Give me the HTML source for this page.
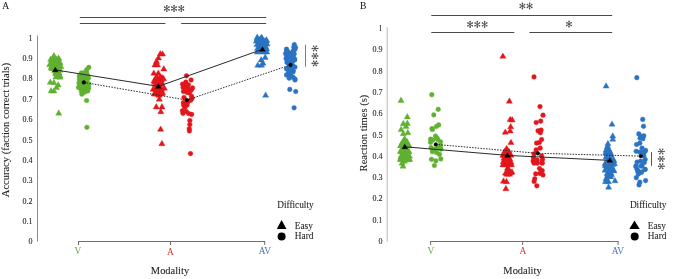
<!DOCTYPE html>
<html><head><meta charset="utf-8"><style>
html,body{margin:0;padding:0;background:#fff;}
svg{display:block;will-change:transform;}
text{font-family:"Liberation Serif",serif;}
</style></head><body>
<svg width="685" height="279" viewBox="0 0 685 279">
<rect width="685" height="279" fill="#fff"/>
<!-- panel labels -->
<text x="2.3" y="8.7" font-size="9.6" fill="#1c1c1c" stroke="#1c1c1c" stroke-width="0.07">A</text>
<text x="360" y="9.1" font-size="9.6" fill="#1c1c1c" stroke="#1c1c1c" stroke-width="0.07">B</text>
<!-- axes A -->
<g stroke-width="1" fill="none">
<path d="M37.5 35.5V241.5" stroke="#8c8c8c"/>
<path d="M387.2 27.2V241.6" stroke="#bdb6b6"/>
<path d="M78 241.5H265.2M78.5 241.5V245M170.5 241.5V245M264.7 241.5V245" stroke="#6e6e6e"/>
<path d="M430.1 241.5H618.6M430.6 241.5V245M522.6 241.5V245M618.1 241.5V245" stroke="#6e6e6e"/>
</g>
<g font-size="8" fill="#2a2a2a" stroke="#2a2a2a" stroke-width="0.12">
<text x="32.6" y="244.3" text-anchor="end">0</text>
<text x="32.6" y="223.9" text-anchor="end">0.1</text>
<text x="32.6" y="203.6" text-anchor="end">0.2</text>
<text x="32.6" y="183.2" text-anchor="end">0.3</text>
<text x="32.6" y="162.9" text-anchor="end">0.4</text>
<text x="32.6" y="142.5" text-anchor="end">0.5</text>
<text x="32.6" y="122.1" text-anchor="end">0.6</text>
<text x="32.6" y="101.8" text-anchor="end">0.7</text>
<text x="32.6" y="81.4" text-anchor="end">0.8</text>
<text x="32.6" y="61.1" text-anchor="end">0.9</text>
<text x="32.6" y="40.7" text-anchor="end">1</text>
<text x="382.6" y="244.1" text-anchor="end">0</text>
<text x="382.6" y="222.8" text-anchor="end">0.1</text>
<text x="382.6" y="201.4" text-anchor="end">0.2</text>
<text x="382.6" y="180.1" text-anchor="end">0.3</text>
<text x="382.6" y="158.8" text-anchor="end">0.4</text>
<text x="382.6" y="137.5" text-anchor="end">0.5</text>
<text x="382.6" y="116.1" text-anchor="end">0.6</text>
<text x="382.6" y="94.8" text-anchor="end">0.7</text>
<text x="382.6" y="73.5" text-anchor="end">0.8</text>
<text x="382.6" y="52.1" text-anchor="end">0.9</text>
<text x="382.6" y="30.8" text-anchor="end">1</text>
</g>
<g font-size="9.4" text-anchor="middle">
<text x="77.8" y="254.2" fill="#5fae32">V</text>
<text x="170.3" y="254.7" fill="#d9342b">A</text>
<text x="264.9" y="254.3" fill="#4a72b8">AV</text>
<text x="430.9" y="253.8" fill="#5fae32">V</text>
<text x="523" y="254.3" fill="#d9342b">A</text>
<text x="617.9" y="254.2" fill="#4a72b8">AV</text>
</g>
<g font-size="10.45" text-anchor="middle" fill="#1c1c1c" stroke="#1c1c1c" stroke-width="0.07">
<text x="170" y="274.4">Modality</text>
<text x="522.5" y="274.4">Modality</text>
</g>
<text transform="translate(9.2 130) rotate(-90)" font-size="10.5" text-anchor="middle" fill="#1c1c1c" stroke="#1c1c1c" stroke-width="0.07">Accuracy (faction correct trials)</text>
<text transform="translate(367.3 133) rotate(-90)" font-size="10.55" text-anchor="middle" fill="#1c1c1c" stroke="#1c1c1c" stroke-width="0.07">Reaction times (s)</text>
<!-- sig bars -->
<g stroke="#4a4a4a" stroke-width="1" fill="none">
<path d="M79.8 17.5H266.2M79.8 23.5H165.4M181.2 23.5H266.2"/>
<path d="M305.5 44.7V66.8" stroke="#7c7c7c"/>
<path d="M431.3 15.5H612.2M431.3 32.5H514.3M529.4 32.5H612.2"/>
<path d="M651.5 152.2V165.8" stroke="#555"/>
</g>
<g stroke="#4d4d4d" stroke-width="0.85" stroke-linecap="round" fill="#4d4d4d"><path d="M166.80 8.50L166.80 5.75M166.80 8.50L166.80 11.25M166.80 8.50L164.60 7.10M166.80 8.50L169.00 9.90M166.80 8.50L164.60 9.90M166.80 8.50L169.00 7.10"/><circle stroke="none" cx="166.80" cy="5.75" r="0.78"/><circle stroke="none" cx="166.80" cy="11.25" r="0.78"/><circle stroke="none" cx="164.60" cy="7.10" r="0.78"/><circle stroke="none" cx="169.00" cy="9.90" r="0.78"/><circle stroke="none" cx="164.60" cy="9.90" r="0.78"/><circle stroke="none" cx="169.00" cy="7.10" r="0.78"/><path d="M174.05 8.50L174.05 5.75M174.05 8.50L174.05 11.25M174.05 8.50L171.85 7.10M174.05 8.50L176.25 9.90M174.05 8.50L171.85 9.90M174.05 8.50L176.25 7.10"/><circle stroke="none" cx="174.05" cy="5.75" r="0.78"/><circle stroke="none" cx="174.05" cy="11.25" r="0.78"/><circle stroke="none" cx="171.85" cy="7.10" r="0.78"/><circle stroke="none" cx="176.25" cy="9.90" r="0.78"/><circle stroke="none" cx="171.85" cy="9.90" r="0.78"/><circle stroke="none" cx="176.25" cy="7.10" r="0.78"/><path d="M181.30 8.50L181.30 5.75M181.30 8.50L181.30 11.25M181.30 8.50L179.10 7.10M181.30 8.50L183.50 9.90M181.30 8.50L179.10 9.90M181.30 8.50L183.50 7.10"/><circle stroke="none" cx="181.30" cy="5.75" r="0.78"/><circle stroke="none" cx="181.30" cy="11.25" r="0.78"/><circle stroke="none" cx="179.10" cy="7.10" r="0.78"/><circle stroke="none" cx="183.50" cy="9.90" r="0.78"/><circle stroke="none" cx="179.10" cy="9.90" r="0.78"/><circle stroke="none" cx="183.50" cy="7.10" r="0.78"/><path d="M522.40 6.00L522.40 3.25M522.40 6.00L522.40 8.75M522.40 6.00L520.20 4.60M522.40 6.00L524.60 7.40M522.40 6.00L520.20 7.40M522.40 6.00L524.60 4.60"/><circle stroke="none" cx="522.40" cy="3.25" r="0.78"/><circle stroke="none" cx="522.40" cy="8.75" r="0.78"/><circle stroke="none" cx="520.20" cy="4.60" r="0.78"/><circle stroke="none" cx="524.60" cy="7.40" r="0.78"/><circle stroke="none" cx="520.20" cy="7.40" r="0.78"/><circle stroke="none" cx="524.60" cy="4.60" r="0.78"/><path d="M529.60 6.00L529.60 3.25M529.60 6.00L529.60 8.75M529.60 6.00L527.40 4.60M529.60 6.00L531.80 7.40M529.60 6.00L527.40 7.40M529.60 6.00L531.80 4.60"/><circle stroke="none" cx="529.60" cy="3.25" r="0.78"/><circle stroke="none" cx="529.60" cy="8.75" r="0.78"/><circle stroke="none" cx="527.40" cy="4.60" r="0.78"/><circle stroke="none" cx="531.80" cy="7.40" r="0.78"/><circle stroke="none" cx="527.40" cy="7.40" r="0.78"/><circle stroke="none" cx="531.80" cy="4.60" r="0.78"/><path d="M470.10 24.40L470.10 21.65M470.10 24.40L470.10 27.15M470.10 24.40L467.90 23.00M470.10 24.40L472.30 25.80M470.10 24.40L467.90 25.80M470.10 24.40L472.30 23.00"/><circle stroke="none" cx="470.10" cy="21.65" r="0.78"/><circle stroke="none" cx="470.10" cy="27.15" r="0.78"/><circle stroke="none" cx="467.90" cy="23.00" r="0.78"/><circle stroke="none" cx="472.30" cy="25.80" r="0.78"/><circle stroke="none" cx="467.90" cy="25.80" r="0.78"/><circle stroke="none" cx="472.30" cy="23.00" r="0.78"/><path d="M477.30 24.40L477.30 21.65M477.30 24.40L477.30 27.15M477.30 24.40L475.10 23.00M477.30 24.40L479.50 25.80M477.30 24.40L475.10 25.80M477.30 24.40L479.50 23.00"/><circle stroke="none" cx="477.30" cy="21.65" r="0.78"/><circle stroke="none" cx="477.30" cy="27.15" r="0.78"/><circle stroke="none" cx="475.10" cy="23.00" r="0.78"/><circle stroke="none" cx="479.50" cy="25.80" r="0.78"/><circle stroke="none" cx="475.10" cy="25.80" r="0.78"/><circle stroke="none" cx="479.50" cy="23.00" r="0.78"/><path d="M484.60 24.40L484.60 21.65M484.60 24.40L484.60 27.15M484.60 24.40L482.40 23.00M484.60 24.40L486.80 25.80M484.60 24.40L482.40 25.80M484.60 24.40L486.80 23.00"/><circle stroke="none" cx="484.60" cy="21.65" r="0.78"/><circle stroke="none" cx="484.60" cy="27.15" r="0.78"/><circle stroke="none" cx="482.40" cy="23.00" r="0.78"/><circle stroke="none" cx="486.80" cy="25.80" r="0.78"/><circle stroke="none" cx="482.40" cy="25.80" r="0.78"/><circle stroke="none" cx="486.80" cy="23.00" r="0.78"/><path d="M569.00 24.10L569.00 21.35M569.00 24.10L569.00 26.85M569.00 24.10L566.80 22.70M569.00 24.10L571.20 25.50M569.00 24.10L566.80 25.50M569.00 24.10L571.20 22.70"/><circle stroke="none" cx="569.00" cy="21.35" r="0.78"/><circle stroke="none" cx="569.00" cy="26.85" r="0.78"/><circle stroke="none" cx="566.80" cy="22.70" r="0.78"/><circle stroke="none" cx="571.20" cy="25.50" r="0.78"/><circle stroke="none" cx="566.80" cy="25.50" r="0.78"/><circle stroke="none" cx="571.20" cy="22.70" r="0.78"/><path d="M315.00 48.50L312.25 48.50M315.00 48.50L317.75 48.50M315.00 48.50L313.60 46.30M315.00 48.50L316.40 50.70M315.00 48.50L316.40 46.30M315.00 48.50L313.60 50.70"/><circle stroke="none" cx="312.25" cy="48.50" r="0.78"/><circle stroke="none" cx="317.75" cy="48.50" r="0.78"/><circle stroke="none" cx="313.60" cy="46.30" r="0.78"/><circle stroke="none" cx="316.40" cy="50.70" r="0.78"/><circle stroke="none" cx="316.40" cy="46.30" r="0.78"/><circle stroke="none" cx="313.60" cy="50.70" r="0.78"/><path d="M315.00 56.00L312.25 56.00M315.00 56.00L317.75 56.00M315.00 56.00L313.60 53.80M315.00 56.00L316.40 58.20M315.00 56.00L316.40 53.80M315.00 56.00L313.60 58.20"/><circle stroke="none" cx="312.25" cy="56.00" r="0.78"/><circle stroke="none" cx="317.75" cy="56.00" r="0.78"/><circle stroke="none" cx="313.60" cy="53.80" r="0.78"/><circle stroke="none" cx="316.40" cy="58.20" r="0.78"/><circle stroke="none" cx="316.40" cy="53.80" r="0.78"/><circle stroke="none" cx="313.60" cy="58.20" r="0.78"/><path d="M315.00 63.40L312.25 63.40M315.00 63.40L317.75 63.40M315.00 63.40L313.60 61.20M315.00 63.40L316.40 65.60M315.00 63.40L316.40 61.20M315.00 63.40L313.60 65.60"/><circle stroke="none" cx="312.25" cy="63.40" r="0.78"/><circle stroke="none" cx="317.75" cy="63.40" r="0.78"/><circle stroke="none" cx="313.60" cy="61.20" r="0.78"/><circle stroke="none" cx="316.40" cy="65.60" r="0.78"/><circle stroke="none" cx="316.40" cy="61.20" r="0.78"/><circle stroke="none" cx="313.60" cy="65.60" r="0.78"/><path d="M661.30 151.50L658.55 151.50M661.30 151.50L664.05 151.50M661.30 151.50L659.90 149.30M661.30 151.50L662.70 153.70M661.30 151.50L662.70 149.30M661.30 151.50L659.90 153.70"/><circle stroke="none" cx="658.55" cy="151.50" r="0.78"/><circle stroke="none" cx="664.05" cy="151.50" r="0.78"/><circle stroke="none" cx="659.90" cy="149.30" r="0.78"/><circle stroke="none" cx="662.70" cy="153.70" r="0.78"/><circle stroke="none" cx="662.70" cy="149.30" r="0.78"/><circle stroke="none" cx="659.90" cy="153.70" r="0.78"/><path d="M661.30 158.90L658.55 158.90M661.30 158.90L664.05 158.90M661.30 158.90L659.90 156.70M661.30 158.90L662.70 161.10M661.30 158.90L662.70 156.70M661.30 158.90L659.90 161.10"/><circle stroke="none" cx="658.55" cy="158.90" r="0.78"/><circle stroke="none" cx="664.05" cy="158.90" r="0.78"/><circle stroke="none" cx="659.90" cy="156.70" r="0.78"/><circle stroke="none" cx="662.70" cy="161.10" r="0.78"/><circle stroke="none" cx="662.70" cy="156.70" r="0.78"/><circle stroke="none" cx="659.90" cy="161.10" r="0.78"/><path d="M661.30 166.30L658.55 166.30M661.30 166.30L664.05 166.30M661.30 166.30L659.90 164.10M661.30 166.30L662.70 168.50M661.30 166.30L662.70 164.10M661.30 166.30L659.90 168.50"/><circle stroke="none" cx="658.55" cy="166.30" r="0.78"/><circle stroke="none" cx="664.05" cy="166.30" r="0.78"/><circle stroke="none" cx="659.90" cy="164.10" r="0.78"/><circle stroke="none" cx="662.70" cy="168.50" r="0.78"/><circle stroke="none" cx="662.70" cy="164.10" r="0.78"/><circle stroke="none" cx="659.90" cy="168.50" r="0.78"/></g>
<!-- legends -->
<g font-size="9.3" fill="#262626" stroke="#262626" stroke-width="0.08">
<text x="277.2" y="208.4">Difficulty</text>
<text x="294.8" y="228.7">Easy</text>
<text x="294.8" y="239.4">Hard</text>
<text x="629.9" y="208.4">Difficulty</text>
<text x="647.8" y="228.7">Easy</text>
<text x="647.8" y="239.4">Hard</text>
</g>
<path d="M281.6 220.1L286.5 229L276.8 229Z" fill="#000"/>
<circle cx="281.6" cy="236.6" r="4" fill="#000"/>
<path d="M634.5 220.4L639.7 229L629.3 229Z" fill="#000"/>
<circle cx="634.7" cy="236.5" r="4" fill="#000"/>
<!-- points -->
<path d="M53.2 55.7L56.3 61.0L50.2 61.0Z" fill="#5fb12f" stroke="#5fb12f" stroke-width="0.4" stroke-linejoin="round"/>
<path d="M56.1 55.7L59.2 61.0L53.1 61.0Z" fill="#5fb12f" stroke="#5fb12f" stroke-width="0.4" stroke-linejoin="round"/>
<path d="M54.7 58.0L57.7 63.3L51.6 63.3Z" fill="#5fb12f" stroke="#5fb12f" stroke-width="0.4" stroke-linejoin="round"/>
<path d="M57.6 58.0L60.6 63.3L54.5 63.3Z" fill="#5fb12f" stroke="#5fb12f" stroke-width="0.4" stroke-linejoin="round"/>
<path d="M53.2 60.3L56.3 65.6L50.2 65.6Z" fill="#5fb12f" stroke="#5fb12f" stroke-width="0.4" stroke-linejoin="round"/>
<path d="M56.1 60.3L59.2 65.6L53.1 65.6Z" fill="#5fb12f" stroke="#5fb12f" stroke-width="0.4" stroke-linejoin="round"/>
<path d="M59.0 60.3L62.1 65.6L56.0 65.6Z" fill="#5fb12f" stroke="#5fb12f" stroke-width="0.4" stroke-linejoin="round"/>
<path d="M54.7 62.6L57.7 67.9L51.6 67.9Z" fill="#5fb12f" stroke="#5fb12f" stroke-width="0.4" stroke-linejoin="round"/>
<path d="M57.6 62.6L60.6 67.9L54.5 67.9Z" fill="#5fb12f" stroke="#5fb12f" stroke-width="0.4" stroke-linejoin="round"/>
<path d="M53.2 64.9L56.3 70.2L50.2 70.2Z" fill="#5fb12f" stroke="#5fb12f" stroke-width="0.4" stroke-linejoin="round"/>
<path d="M56.1 64.9L59.2 70.2L53.1 70.2Z" fill="#5fb12f" stroke="#5fb12f" stroke-width="0.4" stroke-linejoin="round"/>
<path d="M59.0 64.9L62.1 70.2L56.0 70.2Z" fill="#5fb12f" stroke="#5fb12f" stroke-width="0.4" stroke-linejoin="round"/>
<path d="M54.7 67.3L57.7 72.6L51.6 72.6Z" fill="#5fb12f" stroke="#5fb12f" stroke-width="0.4" stroke-linejoin="round"/>
<path d="M57.6 67.3L60.6 72.6L54.5 72.6Z" fill="#5fb12f" stroke="#5fb12f" stroke-width="0.4" stroke-linejoin="round"/>
<path d="M56.1 69.6L59.2 74.9L53.1 74.9Z" fill="#5fb12f" stroke="#5fb12f" stroke-width="0.4" stroke-linejoin="round"/>
<path d="M59.0 69.6L62.1 74.9L56.0 74.9Z" fill="#5fb12f" stroke="#5fb12f" stroke-width="0.4" stroke-linejoin="round"/>
<path d="M57.6 71.9L60.6 77.2L54.5 77.2Z" fill="#5fb12f" stroke="#5fb12f" stroke-width="0.4" stroke-linejoin="round"/>
<path d="M53.9 53.4L56.9 58.6L50.9 58.6Z" fill="#5fb12f" stroke="#5fb12f" stroke-width="0.4" stroke-linejoin="round"/>
<path d="M58.6 55.4L61.6 60.6L55.6 60.6Z" fill="#5fb12f" stroke="#5fb12f" stroke-width="0.4" stroke-linejoin="round"/>
<path d="M59.5 59.4L62.5 64.7L56.5 64.7Z" fill="#5fb12f" stroke="#5fb12f" stroke-width="0.4" stroke-linejoin="round"/>
<path d="M59.5 73.3L62.5 78.7L56.5 78.7Z" fill="#5fb12f" stroke="#5fb12f" stroke-width="0.4" stroke-linejoin="round"/>
<path d="M56.5 73.3L59.5 78.7L53.5 78.7Z" fill="#5fb12f" stroke="#5fb12f" stroke-width="0.4" stroke-linejoin="round"/>
<path d="M56.0 68.3L59.0 73.7L53.0 73.7Z" fill="#5fb12f" stroke="#5fb12f" stroke-width="0.4" stroke-linejoin="round"/>
<path d="M52.0 65.3L55.0 70.7L49.0 70.7Z" fill="#5fb12f" stroke="#5fb12f" stroke-width="0.4" stroke-linejoin="round"/>
<path d="M51.8 57.9L54.8 63.1L48.8 63.1Z" fill="#5fb12f" stroke="#5fb12f" stroke-width="0.4" stroke-linejoin="round"/>
<circle cx="80.8" cy="74.8" r="2.35" fill="#5fb12f" stroke="#5fb12f" stroke-width="0.4"/>
<circle cx="83.7" cy="74.8" r="2.35" fill="#5fb12f" stroke="#5fb12f" stroke-width="0.4"/>
<circle cx="86.6" cy="74.8" r="2.35" fill="#5fb12f" stroke="#5fb12f" stroke-width="0.4"/>
<circle cx="82.2" cy="77.1" r="2.35" fill="#5fb12f" stroke="#5fb12f" stroke-width="0.4"/>
<circle cx="85.1" cy="77.1" r="2.35" fill="#5fb12f" stroke="#5fb12f" stroke-width="0.4"/>
<circle cx="80.8" cy="79.5" r="2.35" fill="#5fb12f" stroke="#5fb12f" stroke-width="0.4"/>
<circle cx="83.7" cy="79.5" r="2.35" fill="#5fb12f" stroke="#5fb12f" stroke-width="0.4"/>
<circle cx="86.6" cy="79.5" r="2.35" fill="#5fb12f" stroke="#5fb12f" stroke-width="0.4"/>
<circle cx="82.2" cy="81.8" r="2.35" fill="#5fb12f" stroke="#5fb12f" stroke-width="0.4"/>
<circle cx="85.1" cy="81.8" r="2.35" fill="#5fb12f" stroke="#5fb12f" stroke-width="0.4"/>
<circle cx="80.8" cy="84.1" r="2.35" fill="#5fb12f" stroke="#5fb12f" stroke-width="0.4"/>
<circle cx="83.7" cy="84.1" r="2.35" fill="#5fb12f" stroke="#5fb12f" stroke-width="0.4"/>
<circle cx="86.6" cy="84.1" r="2.35" fill="#5fb12f" stroke="#5fb12f" stroke-width="0.4"/>
<circle cx="82.2" cy="86.4" r="2.35" fill="#5fb12f" stroke="#5fb12f" stroke-width="0.4"/>
<circle cx="85.1" cy="86.4" r="2.35" fill="#5fb12f" stroke="#5fb12f" stroke-width="0.4"/>
<circle cx="80.8" cy="88.7" r="2.35" fill="#5fb12f" stroke="#5fb12f" stroke-width="0.4"/>
<circle cx="83.7" cy="88.7" r="2.35" fill="#5fb12f" stroke="#5fb12f" stroke-width="0.4"/>
<circle cx="86.6" cy="88.7" r="2.35" fill="#5fb12f" stroke="#5fb12f" stroke-width="0.4"/>
<circle cx="82.2" cy="91.1" r="2.35" fill="#5fb12f" stroke="#5fb12f" stroke-width="0.4"/>
<circle cx="81.5" cy="73.5" r="2.35" fill="#5fb12f" stroke="#5fb12f" stroke-width="0.4"/>
<circle cx="86.5" cy="72.5" r="2.35" fill="#5fb12f" stroke="#5fb12f" stroke-width="0.4"/>
<circle cx="87.5" cy="88.0" r="2.35" fill="#5fb12f" stroke="#5fb12f" stroke-width="0.4"/>
<circle cx="84.5" cy="91.5" r="2.35" fill="#5fb12f" stroke="#5fb12f" stroke-width="0.4"/>
<circle cx="81.5" cy="91.5" r="2.35" fill="#5fb12f" stroke="#5fb12f" stroke-width="0.4"/>
<circle cx="79.3" cy="87.0" r="2.35" fill="#5fb12f" stroke="#5fb12f" stroke-width="0.4"/>
<circle cx="79.5" cy="76.5" r="2.35" fill="#5fb12f" stroke="#5fb12f" stroke-width="0.4"/>
<path d="M157.1 74.3L160.2 79.7L154.0 79.7Z" fill="#e3161b" stroke="#e3161b" stroke-width="0.4" stroke-linejoin="round"/>
<path d="M160.0 74.3L163.1 79.7L156.9 79.7Z" fill="#e3161b" stroke="#e3161b" stroke-width="0.4" stroke-linejoin="round"/>
<path d="M155.6 76.7L158.7 82.0L152.6 82.0Z" fill="#e3161b" stroke="#e3161b" stroke-width="0.4" stroke-linejoin="round"/>
<path d="M158.5 76.7L161.6 82.0L155.5 82.0Z" fill="#e3161b" stroke="#e3161b" stroke-width="0.4" stroke-linejoin="round"/>
<path d="M161.4 76.7L164.5 82.0L158.4 82.0Z" fill="#e3161b" stroke="#e3161b" stroke-width="0.4" stroke-linejoin="round"/>
<path d="M157.1 79.0L160.2 84.3L154.0 84.3Z" fill="#e3161b" stroke="#e3161b" stroke-width="0.4" stroke-linejoin="round"/>
<path d="M160.0 79.0L163.1 84.3L156.9 84.3Z" fill="#e3161b" stroke="#e3161b" stroke-width="0.4" stroke-linejoin="round"/>
<path d="M155.6 81.3L158.7 86.6L152.6 86.6Z" fill="#e3161b" stroke="#e3161b" stroke-width="0.4" stroke-linejoin="round"/>
<path d="M158.5 81.3L161.6 86.6L155.5 86.6Z" fill="#e3161b" stroke="#e3161b" stroke-width="0.4" stroke-linejoin="round"/>
<path d="M161.4 81.3L164.5 86.6L158.4 86.6Z" fill="#e3161b" stroke="#e3161b" stroke-width="0.4" stroke-linejoin="round"/>
<path d="M157.1 83.6L160.2 88.9L154.0 88.9Z" fill="#e3161b" stroke="#e3161b" stroke-width="0.4" stroke-linejoin="round"/>
<path d="M160.0 83.6L163.1 88.9L156.9 88.9Z" fill="#e3161b" stroke="#e3161b" stroke-width="0.4" stroke-linejoin="round"/>
<path d="M155.6 85.9L158.7 91.2L152.6 91.2Z" fill="#e3161b" stroke="#e3161b" stroke-width="0.4" stroke-linejoin="round"/>
<path d="M158.5 85.9L161.6 91.2L155.5 91.2Z" fill="#e3161b" stroke="#e3161b" stroke-width="0.4" stroke-linejoin="round"/>
<path d="M161.4 85.9L164.5 91.2L158.4 91.2Z" fill="#e3161b" stroke="#e3161b" stroke-width="0.4" stroke-linejoin="round"/>
<path d="M157.1 88.3L160.2 93.6L154.0 93.6Z" fill="#e3161b" stroke="#e3161b" stroke-width="0.4" stroke-linejoin="round"/>
<path d="M160.0 88.3L163.1 93.6L156.9 93.6Z" fill="#e3161b" stroke="#e3161b" stroke-width="0.4" stroke-linejoin="round"/>
<path d="M155.6 90.6L158.7 95.9L152.6 95.9Z" fill="#e3161b" stroke="#e3161b" stroke-width="0.4" stroke-linejoin="round"/>
<path d="M158.5 90.6L161.6 95.9L155.5 95.9Z" fill="#e3161b" stroke="#e3161b" stroke-width="0.4" stroke-linejoin="round"/>
<path d="M156.0 74.3L159.1 79.7L152.9 79.7Z" fill="#e3161b" stroke="#e3161b" stroke-width="0.4" stroke-linejoin="round"/>
<path d="M162.0 74.3L165.1 79.7L158.9 79.7Z" fill="#e3161b" stroke="#e3161b" stroke-width="0.4" stroke-linejoin="round"/>
<path d="M162.5 89.3L165.6 94.7L159.4 94.7Z" fill="#e3161b" stroke="#e3161b" stroke-width="0.4" stroke-linejoin="round"/>
<path d="M159.0 91.8L162.1 97.2L155.9 97.2Z" fill="#e3161b" stroke="#e3161b" stroke-width="0.4" stroke-linejoin="round"/>
<path d="M155.0 90.3L158.1 95.7L151.9 95.7Z" fill="#e3161b" stroke="#e3161b" stroke-width="0.4" stroke-linejoin="round"/>
<path d="M154.2 77.3L157.2 82.7L151.1 82.7Z" fill="#e3161b" stroke="#e3161b" stroke-width="0.4" stroke-linejoin="round"/>
<path d="M257.5 35.4L260.6 40.6L254.4 40.6Z" fill="#2b73c2" stroke="#2b73c2" stroke-width="0.4" stroke-linejoin="round"/>
<path d="M260.4 35.4L263.4 40.6L257.3 40.6Z" fill="#2b73c2" stroke="#2b73c2" stroke-width="0.4" stroke-linejoin="round"/>
<path d="M258.9 37.7L262.0 43.0L255.9 43.0Z" fill="#2b73c2" stroke="#2b73c2" stroke-width="0.4" stroke-linejoin="round"/>
<path d="M261.8 37.7L264.9 43.0L258.8 43.0Z" fill="#2b73c2" stroke="#2b73c2" stroke-width="0.4" stroke-linejoin="round"/>
<path d="M264.7 37.7L267.8 43.0L261.7 43.0Z" fill="#2b73c2" stroke="#2b73c2" stroke-width="0.4" stroke-linejoin="round"/>
<path d="M260.4 40.0L263.4 45.3L257.3 45.3Z" fill="#2b73c2" stroke="#2b73c2" stroke-width="0.4" stroke-linejoin="round"/>
<path d="M263.3 40.0L266.3 45.3L260.2 45.3Z" fill="#2b73c2" stroke="#2b73c2" stroke-width="0.4" stroke-linejoin="round"/>
<path d="M266.2 40.0L269.2 45.3L263.1 45.3Z" fill="#2b73c2" stroke="#2b73c2" stroke-width="0.4" stroke-linejoin="round"/>
<path d="M258.9 42.3L262.0 47.6L255.9 47.6Z" fill="#2b73c2" stroke="#2b73c2" stroke-width="0.4" stroke-linejoin="round"/>
<path d="M261.8 42.3L264.9 47.6L258.8 47.6Z" fill="#2b73c2" stroke="#2b73c2" stroke-width="0.4" stroke-linejoin="round"/>
<path d="M264.7 42.3L267.8 47.6L261.7 47.6Z" fill="#2b73c2" stroke="#2b73c2" stroke-width="0.4" stroke-linejoin="round"/>
<path d="M260.4 44.6L263.4 49.9L257.3 49.9Z" fill="#2b73c2" stroke="#2b73c2" stroke-width="0.4" stroke-linejoin="round"/>
<path d="M263.3 44.6L266.3 49.9L260.2 49.9Z" fill="#2b73c2" stroke="#2b73c2" stroke-width="0.4" stroke-linejoin="round"/>
<path d="M266.2 44.6L269.2 49.9L263.1 49.9Z" fill="#2b73c2" stroke="#2b73c2" stroke-width="0.4" stroke-linejoin="round"/>
<path d="M258.9 47.0L262.0 52.2L255.9 52.2Z" fill="#2b73c2" stroke="#2b73c2" stroke-width="0.4" stroke-linejoin="round"/>
<path d="M261.8 47.0L264.9 52.2L258.8 52.2Z" fill="#2b73c2" stroke="#2b73c2" stroke-width="0.4" stroke-linejoin="round"/>
<path d="M264.7 47.0L267.8 52.2L261.7 52.2Z" fill="#2b73c2" stroke="#2b73c2" stroke-width="0.4" stroke-linejoin="round"/>
<path d="M257.5 35.4L260.6 40.6L254.4 40.6Z" fill="#2b73c2" stroke="#2b73c2" stroke-width="0.4" stroke-linejoin="round"/>
<path d="M262.0 35.4L265.1 40.6L258.9 40.6Z" fill="#2b73c2" stroke="#2b73c2" stroke-width="0.4" stroke-linejoin="round"/>
<path d="M266.3 37.9L269.4 43.1L263.2 43.1Z" fill="#2b73c2" stroke="#2b73c2" stroke-width="0.4" stroke-linejoin="round"/>
<path d="M266.3 48.4L269.4 53.6L263.2 53.6Z" fill="#2b73c2" stroke="#2b73c2" stroke-width="0.4" stroke-linejoin="round"/>
<path d="M258.0 48.4L261.1 53.6L254.9 53.6Z" fill="#2b73c2" stroke="#2b73c2" stroke-width="0.4" stroke-linejoin="round"/>
<path d="M257.5 37.9L260.6 43.1L254.4 43.1Z" fill="#2b73c2" stroke="#2b73c2" stroke-width="0.4" stroke-linejoin="round"/>
<circle cx="294.2" cy="49.3" r="2.35" fill="#2b73c2" stroke="#2b73c2" stroke-width="0.4"/>
<circle cx="287.0" cy="51.6" r="2.35" fill="#2b73c2" stroke="#2b73c2" stroke-width="0.4"/>
<circle cx="292.8" cy="51.6" r="2.35" fill="#2b73c2" stroke="#2b73c2" stroke-width="0.4"/>
<circle cx="288.4" cy="54.0" r="2.35" fill="#2b73c2" stroke="#2b73c2" stroke-width="0.4"/>
<circle cx="291.3" cy="54.0" r="2.35" fill="#2b73c2" stroke="#2b73c2" stroke-width="0.4"/>
<circle cx="294.2" cy="54.0" r="2.35" fill="#2b73c2" stroke="#2b73c2" stroke-width="0.4"/>
<circle cx="287.0" cy="56.3" r="2.35" fill="#2b73c2" stroke="#2b73c2" stroke-width="0.4"/>
<circle cx="289.9" cy="56.3" r="2.35" fill="#2b73c2" stroke="#2b73c2" stroke-width="0.4"/>
<circle cx="292.8" cy="56.3" r="2.35" fill="#2b73c2" stroke="#2b73c2" stroke-width="0.4"/>
<circle cx="288.4" cy="58.6" r="2.35" fill="#2b73c2" stroke="#2b73c2" stroke-width="0.4"/>
<circle cx="291.3" cy="58.6" r="2.35" fill="#2b73c2" stroke="#2b73c2" stroke-width="0.4"/>
<circle cx="294.2" cy="58.6" r="2.35" fill="#2b73c2" stroke="#2b73c2" stroke-width="0.4"/>
<circle cx="289.9" cy="60.9" r="2.35" fill="#2b73c2" stroke="#2b73c2" stroke-width="0.4"/>
<circle cx="292.8" cy="60.9" r="2.35" fill="#2b73c2" stroke="#2b73c2" stroke-width="0.4"/>
<circle cx="288.4" cy="63.2" r="2.35" fill="#2b73c2" stroke="#2b73c2" stroke-width="0.4"/>
<circle cx="291.3" cy="63.2" r="2.35" fill="#2b73c2" stroke="#2b73c2" stroke-width="0.4"/>
<circle cx="289.9" cy="65.6" r="2.35" fill="#2b73c2" stroke="#2b73c2" stroke-width="0.4"/>
<circle cx="292.8" cy="65.6" r="2.35" fill="#2b73c2" stroke="#2b73c2" stroke-width="0.4"/>
<circle cx="288.4" cy="67.9" r="2.35" fill="#2b73c2" stroke="#2b73c2" stroke-width="0.4"/>
<circle cx="291.3" cy="67.9" r="2.35" fill="#2b73c2" stroke="#2b73c2" stroke-width="0.4"/>
<circle cx="289.9" cy="70.2" r="2.35" fill="#2b73c2" stroke="#2b73c2" stroke-width="0.4"/>
<circle cx="292.8" cy="70.2" r="2.35" fill="#2b73c2" stroke="#2b73c2" stroke-width="0.4"/>
<circle cx="288.4" cy="72.5" r="2.35" fill="#2b73c2" stroke="#2b73c2" stroke-width="0.4"/>
<circle cx="291.3" cy="72.5" r="2.35" fill="#2b73c2" stroke="#2b73c2" stroke-width="0.4"/>
<circle cx="289.9" cy="74.8" r="2.35" fill="#2b73c2" stroke="#2b73c2" stroke-width="0.4"/>
<circle cx="287.0" cy="51.0" r="2.35" fill="#2b73c2" stroke="#2b73c2" stroke-width="0.4"/>
<circle cx="289.0" cy="53.0" r="2.35" fill="#2b73c2" stroke="#2b73c2" stroke-width="0.4"/>
<circle cx="293.8" cy="47.0" r="2.35" fill="#2b73c2" stroke="#2b73c2" stroke-width="0.4"/>
<circle cx="294.8" cy="49.0" r="2.35" fill="#2b73c2" stroke="#2b73c2" stroke-width="0.4"/>
<circle cx="294.5" cy="60.0" r="2.35" fill="#2b73c2" stroke="#2b73c2" stroke-width="0.4"/>
<circle cx="293.0" cy="72.0" r="2.35" fill="#2b73c2" stroke="#2b73c2" stroke-width="0.4"/>
<circle cx="290.0" cy="76.5" r="2.35" fill="#2b73c2" stroke="#2b73c2" stroke-width="0.4"/>
<circle cx="287.2" cy="75.0" r="2.35" fill="#2b73c2" stroke="#2b73c2" stroke-width="0.4"/>
<circle cx="287.0" cy="60.0" r="2.35" fill="#2b73c2" stroke="#2b73c2" stroke-width="0.4"/>
<path d="M402.7 139.4L405.8 144.7L399.6 144.7Z" fill="#5fb12f" stroke="#5fb12f" stroke-width="0.4" stroke-linejoin="round"/>
<path d="M406.5 139.4L409.6 144.7L403.4 144.7Z" fill="#5fb12f" stroke="#5fb12f" stroke-width="0.4" stroke-linejoin="round"/>
<path d="M400.8 142.4L403.9 147.7L397.8 147.7Z" fill="#5fb12f" stroke="#5fb12f" stroke-width="0.4" stroke-linejoin="round"/>
<path d="M404.6 142.4L407.7 147.7L401.6 147.7Z" fill="#5fb12f" stroke="#5fb12f" stroke-width="0.4" stroke-linejoin="round"/>
<path d="M408.4 142.4L411.5 147.7L405.4 147.7Z" fill="#5fb12f" stroke="#5fb12f" stroke-width="0.4" stroke-linejoin="round"/>
<path d="M402.7 145.5L405.8 150.8L399.6 150.8Z" fill="#5fb12f" stroke="#5fb12f" stroke-width="0.4" stroke-linejoin="round"/>
<path d="M406.5 145.5L409.6 150.8L403.4 150.8Z" fill="#5fb12f" stroke="#5fb12f" stroke-width="0.4" stroke-linejoin="round"/>
<path d="M400.8 148.5L403.9 153.8L397.8 153.8Z" fill="#5fb12f" stroke="#5fb12f" stroke-width="0.4" stroke-linejoin="round"/>
<path d="M404.6 148.5L407.7 153.8L401.6 153.8Z" fill="#5fb12f" stroke="#5fb12f" stroke-width="0.4" stroke-linejoin="round"/>
<path d="M408.4 148.5L411.5 153.8L405.4 153.8Z" fill="#5fb12f" stroke="#5fb12f" stroke-width="0.4" stroke-linejoin="round"/>
<path d="M402.7 151.5L405.8 156.8L399.6 156.8Z" fill="#5fb12f" stroke="#5fb12f" stroke-width="0.4" stroke-linejoin="round"/>
<path d="M406.5 151.5L409.6 156.8L403.4 156.8Z" fill="#5fb12f" stroke="#5fb12f" stroke-width="0.4" stroke-linejoin="round"/>
<path d="M400.8 154.6L403.9 159.9L397.8 159.9Z" fill="#5fb12f" stroke="#5fb12f" stroke-width="0.4" stroke-linejoin="round"/>
<path d="M404.6 154.6L407.7 159.9L401.6 159.9Z" fill="#5fb12f" stroke="#5fb12f" stroke-width="0.4" stroke-linejoin="round"/>
<path d="M408.4 154.6L411.5 159.9L405.4 159.9Z" fill="#5fb12f" stroke="#5fb12f" stroke-width="0.4" stroke-linejoin="round"/>
<path d="M404.6 136.3L407.7 141.7L401.6 141.7Z" fill="#5fb12f" stroke="#5fb12f" stroke-width="0.4" stroke-linejoin="round"/>
<path d="M408.8 142.3L411.9 147.7L405.8 147.7Z" fill="#5fb12f" stroke="#5fb12f" stroke-width="0.4" stroke-linejoin="round"/>
<path d="M409.2 156.3L412.2 161.7L406.1 161.7Z" fill="#5fb12f" stroke="#5fb12f" stroke-width="0.4" stroke-linejoin="round"/>
<path d="M404.5 157.8L407.6 163.2L401.4 163.2Z" fill="#5fb12f" stroke="#5fb12f" stroke-width="0.4" stroke-linejoin="round"/>
<path d="M400.8 156.3L403.9 161.7L397.8 161.7Z" fill="#5fb12f" stroke="#5fb12f" stroke-width="0.4" stroke-linejoin="round"/>
<path d="M400.8 142.3L403.9 147.7L397.8 147.7Z" fill="#5fb12f" stroke="#5fb12f" stroke-width="0.4" stroke-linejoin="round"/>
<path d="M505.7 149.4L508.8 154.7L502.6 154.7Z" fill="#e3161b" stroke="#e3161b" stroke-width="0.4" stroke-linejoin="round"/>
<path d="M503.8 152.4L506.9 157.7L500.8 157.7Z" fill="#e3161b" stroke="#e3161b" stroke-width="0.4" stroke-linejoin="round"/>
<path d="M507.6 152.4L510.7 157.7L504.6 157.7Z" fill="#e3161b" stroke="#e3161b" stroke-width="0.4" stroke-linejoin="round"/>
<path d="M505.7 155.5L508.8 160.8L502.6 160.8Z" fill="#e3161b" stroke="#e3161b" stroke-width="0.4" stroke-linejoin="round"/>
<path d="M509.5 155.5L512.5 160.8L506.4 160.8Z" fill="#e3161b" stroke="#e3161b" stroke-width="0.4" stroke-linejoin="round"/>
<path d="M503.8 158.5L506.9 163.8L500.8 163.8Z" fill="#e3161b" stroke="#e3161b" stroke-width="0.4" stroke-linejoin="round"/>
<path d="M507.6 158.5L510.7 163.8L504.6 163.8Z" fill="#e3161b" stroke="#e3161b" stroke-width="0.4" stroke-linejoin="round"/>
<path d="M505.7 161.5L508.8 166.8L502.6 166.8Z" fill="#e3161b" stroke="#e3161b" stroke-width="0.4" stroke-linejoin="round"/>
<path d="M509.5 161.5L512.5 166.8L506.4 166.8Z" fill="#e3161b" stroke="#e3161b" stroke-width="0.4" stroke-linejoin="round"/>
<path d="M507.6 164.6L510.7 169.9L504.6 169.9Z" fill="#e3161b" stroke="#e3161b" stroke-width="0.4" stroke-linejoin="round"/>
<path d="M509.5 167.6L512.5 172.9L506.4 172.9Z" fill="#e3161b" stroke="#e3161b" stroke-width="0.4" stroke-linejoin="round"/>
<path d="M506.6 146.3L509.7 151.7L503.6 151.7Z" fill="#e3161b" stroke="#e3161b" stroke-width="0.4" stroke-linejoin="round"/>
<path d="M510.7 151.3L513.8 156.7L507.6 156.7Z" fill="#e3161b" stroke="#e3161b" stroke-width="0.4" stroke-linejoin="round"/>
<path d="M510.8 169.3L513.9 174.7L507.8 174.7Z" fill="#e3161b" stroke="#e3161b" stroke-width="0.4" stroke-linejoin="round"/>
<path d="M507.0 170.8L510.1 176.2L503.9 176.2Z" fill="#e3161b" stroke="#e3161b" stroke-width="0.4" stroke-linejoin="round"/>
<path d="M503.8 161.3L506.9 166.7L500.8 166.7Z" fill="#e3161b" stroke="#e3161b" stroke-width="0.4" stroke-linejoin="round"/>
<path d="M503.8 150.8L506.9 156.2L500.8 156.2Z" fill="#e3161b" stroke="#e3161b" stroke-width="0.4" stroke-linejoin="round"/>
<path d="M607.2 145.9L610.2 151.2L604.1 151.2Z" fill="#2b73c2" stroke="#2b73c2" stroke-width="0.4" stroke-linejoin="round"/>
<path d="M609.1 148.9L612.1 154.2L606.0 154.2Z" fill="#2b73c2" stroke="#2b73c2" stroke-width="0.4" stroke-linejoin="round"/>
<path d="M607.2 152.0L610.2 157.3L604.1 157.3Z" fill="#2b73c2" stroke="#2b73c2" stroke-width="0.4" stroke-linejoin="round"/>
<path d="M611.0 152.0L614.0 157.3L607.9 157.3Z" fill="#2b73c2" stroke="#2b73c2" stroke-width="0.4" stroke-linejoin="round"/>
<path d="M609.1 155.0L612.1 160.3L606.0 160.3Z" fill="#2b73c2" stroke="#2b73c2" stroke-width="0.4" stroke-linejoin="round"/>
<path d="M607.2 158.0L610.2 163.3L604.1 163.3Z" fill="#2b73c2" stroke="#2b73c2" stroke-width="0.4" stroke-linejoin="round"/>
<path d="M611.0 158.0L614.0 163.3L607.9 163.3Z" fill="#2b73c2" stroke="#2b73c2" stroke-width="0.4" stroke-linejoin="round"/>
<path d="M609.1 161.1L612.1 166.4L606.0 166.4Z" fill="#2b73c2" stroke="#2b73c2" stroke-width="0.4" stroke-linejoin="round"/>
<path d="M612.9 161.1L615.9 166.4L609.8 166.4Z" fill="#2b73c2" stroke="#2b73c2" stroke-width="0.4" stroke-linejoin="round"/>
<path d="M607.2 164.1L610.2 169.4L604.1 169.4Z" fill="#2b73c2" stroke="#2b73c2" stroke-width="0.4" stroke-linejoin="round"/>
<path d="M611.0 164.1L614.0 169.4L607.9 169.4Z" fill="#2b73c2" stroke="#2b73c2" stroke-width="0.4" stroke-linejoin="round"/>
<path d="M609.1 167.2L612.1 172.5L606.0 172.5Z" fill="#2b73c2" stroke="#2b73c2" stroke-width="0.4" stroke-linejoin="round"/>
<path d="M612.9 167.2L615.9 172.5L609.8 172.5Z" fill="#2b73c2" stroke="#2b73c2" stroke-width="0.4" stroke-linejoin="round"/>
<path d="M607.2 170.2L610.2 175.5L604.1 175.5Z" fill="#2b73c2" stroke="#2b73c2" stroke-width="0.4" stroke-linejoin="round"/>
<path d="M611.0 170.2L614.0 175.5L607.9 175.5Z" fill="#2b73c2" stroke="#2b73c2" stroke-width="0.4" stroke-linejoin="round"/>
<path d="M609.1 173.2L612.1 178.5L606.0 178.5Z" fill="#2b73c2" stroke="#2b73c2" stroke-width="0.4" stroke-linejoin="round"/>
<path d="M607.6 142.8L610.6 148.2L604.6 148.2Z" fill="#2b73c2" stroke="#2b73c2" stroke-width="0.4" stroke-linejoin="round"/>
<path d="M610.5 149.3L613.5 154.7L607.5 154.7Z" fill="#2b73c2" stroke="#2b73c2" stroke-width="0.4" stroke-linejoin="round"/>
<path d="M613.8 157.3L616.8 162.7L610.8 162.7Z" fill="#2b73c2" stroke="#2b73c2" stroke-width="0.4" stroke-linejoin="round"/>
<path d="M613.3 167.3L616.3 172.7L610.2 172.7Z" fill="#2b73c2" stroke="#2b73c2" stroke-width="0.4" stroke-linejoin="round"/>
<path d="M610.8 173.3L613.8 178.7L607.8 178.7Z" fill="#2b73c2" stroke="#2b73c2" stroke-width="0.4" stroke-linejoin="round"/>
<path d="M606.0 175.3L609.0 180.7L603.0 180.7Z" fill="#2b73c2" stroke="#2b73c2" stroke-width="0.4" stroke-linejoin="round"/>
<path d="M605.3 162.3L608.3 167.7L602.2 167.7Z" fill="#2b73c2" stroke="#2b73c2" stroke-width="0.4" stroke-linejoin="round"/>
<path d="M605.7 149.3L608.8 154.7L602.7 154.7Z" fill="#2b73c2" stroke="#2b73c2" stroke-width="0.4" stroke-linejoin="round"/>
<path d="M53.9 52.5L56.9 57.8L50.9 57.8Z" fill="#5fb12f" stroke="#5fb12f" stroke-width="0.4" stroke-linejoin="round"/>
<path d="M58.6 54.9L61.6 60.1L55.6 60.1Z" fill="#5fb12f" stroke="#5fb12f" stroke-width="0.4" stroke-linejoin="round"/>
<path d="M50.6 56.1L53.6 61.4L47.6 61.4Z" fill="#5fb12f" stroke="#5fb12f" stroke-width="0.4" stroke-linejoin="round"/>
<path d="M55.5 55.9L58.5 61.1L52.5 61.1Z" fill="#5fb12f" stroke="#5fb12f" stroke-width="0.4" stroke-linejoin="round"/>
<path d="M52.0 58.9L55.0 64.2L49.0 64.2Z" fill="#5fb12f" stroke="#5fb12f" stroke-width="0.4" stroke-linejoin="round"/>
<path d="M57.0 58.4L60.0 63.6L54.0 63.6Z" fill="#5fb12f" stroke="#5fb12f" stroke-width="0.4" stroke-linejoin="round"/>
<path d="M60.0 59.4L63.0 64.7L57.0 64.7Z" fill="#5fb12f" stroke="#5fb12f" stroke-width="0.4" stroke-linejoin="round"/>
<path d="M49.5 61.4L52.5 66.7L46.5 66.7Z" fill="#5fb12f" stroke="#5fb12f" stroke-width="0.4" stroke-linejoin="round"/>
<path d="M54.0 61.4L57.0 66.7L51.0 66.7Z" fill="#5fb12f" stroke="#5fb12f" stroke-width="0.4" stroke-linejoin="round"/>
<path d="M59.0 61.9L62.0 67.2L56.0 67.2Z" fill="#5fb12f" stroke="#5fb12f" stroke-width="0.4" stroke-linejoin="round"/>
<path d="M61.0 63.4L64.0 68.7L58.0 68.7Z" fill="#5fb12f" stroke="#5fb12f" stroke-width="0.4" stroke-linejoin="round"/>
<path d="M51.0 64.3L54.0 69.7L48.0 69.7Z" fill="#5fb12f" stroke="#5fb12f" stroke-width="0.4" stroke-linejoin="round"/>
<path d="M56.0 63.9L59.0 69.2L53.0 69.2Z" fill="#5fb12f" stroke="#5fb12f" stroke-width="0.4" stroke-linejoin="round"/>
<path d="M60.0 66.8L63.0 72.2L57.0 72.2Z" fill="#5fb12f" stroke="#5fb12f" stroke-width="0.4" stroke-linejoin="round"/>
<path d="M55.5 70.3L58.5 75.7L52.5 75.7Z" fill="#5fb12f" stroke="#5fb12f" stroke-width="0.4" stroke-linejoin="round"/>
<path d="M58.5 69.8L61.5 75.2L55.5 75.2Z" fill="#5fb12f" stroke="#5fb12f" stroke-width="0.4" stroke-linejoin="round"/>
<path d="M60.0 72.3L63.0 77.7L57.0 77.7Z" fill="#5fb12f" stroke="#5fb12f" stroke-width="0.4" stroke-linejoin="round"/>
<path d="M56.0 73.3L59.0 78.7L53.0 78.7Z" fill="#5fb12f" stroke="#5fb12f" stroke-width="0.4" stroke-linejoin="round"/>
<path d="M60.0 73.8L63.0 79.2L57.0 79.2Z" fill="#5fb12f" stroke="#5fb12f" stroke-width="0.4" stroke-linejoin="round"/>
<path d="M50.3 78.9L53.3 84.2L47.2 84.2Z" fill="#5fb12f" stroke="#5fb12f" stroke-width="0.4" stroke-linejoin="round"/>
<path d="M53.9 79.3L56.9 84.7L50.9 84.7Z" fill="#5fb12f" stroke="#5fb12f" stroke-width="0.4" stroke-linejoin="round"/>
<path d="M58.2 81.6L61.2 87.0L55.2 87.0Z" fill="#5fb12f" stroke="#5fb12f" stroke-width="0.4" stroke-linejoin="round"/>
<path d="M56.5 84.1L59.5 89.5L53.5 89.5Z" fill="#5fb12f" stroke="#5fb12f" stroke-width="0.4" stroke-linejoin="round"/>
<path d="M51.1 87.5L54.1 92.9L48.1 92.9Z" fill="#5fb12f" stroke="#5fb12f" stroke-width="0.4" stroke-linejoin="round"/>
<path d="M53.9 87.8L56.9 93.1L50.9 93.1Z" fill="#5fb12f" stroke="#5fb12f" stroke-width="0.4" stroke-linejoin="round"/>
<path d="M58.7 109.8L61.8 115.2L55.7 115.2Z" fill="#5fb12f" stroke="#5fb12f" stroke-width="0.4" stroke-linejoin="round"/>
<circle cx="88.8" cy="67.3" r="2.35" fill="#5fb12f" stroke="#5fb12f" stroke-width="0.4"/>
<circle cx="86.8" cy="69.6" r="2.35" fill="#5fb12f" stroke="#5fb12f" stroke-width="0.4"/>
<circle cx="81.5" cy="73.0" r="2.35" fill="#5fb12f" stroke="#5fb12f" stroke-width="0.4"/>
<circle cx="84.5" cy="72.5" r="2.35" fill="#5fb12f" stroke="#5fb12f" stroke-width="0.4"/>
<circle cx="79.5" cy="76.0" r="2.35" fill="#5fb12f" stroke="#5fb12f" stroke-width="0.4"/>
<circle cx="84.0" cy="75.5" r="2.35" fill="#5fb12f" stroke="#5fb12f" stroke-width="0.4"/>
<circle cx="87.5" cy="75.0" r="2.35" fill="#5fb12f" stroke="#5fb12f" stroke-width="0.4"/>
<circle cx="88.5" cy="78.0" r="2.35" fill="#5fb12f" stroke="#5fb12f" stroke-width="0.4"/>
<circle cx="79.5" cy="79.5" r="2.35" fill="#5fb12f" stroke="#5fb12f" stroke-width="0.4"/>
<circle cx="84.0" cy="79.0" r="2.35" fill="#5fb12f" stroke="#5fb12f" stroke-width="0.4"/>
<circle cx="87.0" cy="81.0" r="2.35" fill="#5fb12f" stroke="#5fb12f" stroke-width="0.4"/>
<circle cx="79.0" cy="83.0" r="2.35" fill="#5fb12f" stroke="#5fb12f" stroke-width="0.4"/>
<circle cx="86.5" cy="84.5" r="2.35" fill="#5fb12f" stroke="#5fb12f" stroke-width="0.4"/>
<circle cx="89.0" cy="84.0" r="2.35" fill="#5fb12f" stroke="#5fb12f" stroke-width="0.4"/>
<circle cx="78.5" cy="87.5" r="2.35" fill="#5fb12f" stroke="#5fb12f" stroke-width="0.4"/>
<circle cx="82.5" cy="86.5" r="2.35" fill="#5fb12f" stroke="#5fb12f" stroke-width="0.4"/>
<circle cx="88.8" cy="88.0" r="2.35" fill="#5fb12f" stroke="#5fb12f" stroke-width="0.4"/>
<circle cx="87.8" cy="91.0" r="2.35" fill="#5fb12f" stroke="#5fb12f" stroke-width="0.4"/>
<circle cx="84.8" cy="92.0" r="2.35" fill="#5fb12f" stroke="#5fb12f" stroke-width="0.4"/>
<circle cx="81.9" cy="94.2" r="2.35" fill="#5fb12f" stroke="#5fb12f" stroke-width="0.4"/>
<circle cx="86.6" cy="100.5" r="2.35" fill="#5fb12f" stroke="#5fb12f" stroke-width="0.4"/>
<circle cx="86.9" cy="127.3" r="2.35" fill="#5fb12f" stroke="#5fb12f" stroke-width="0.4"/>
<path d="M160.3 50.6L163.4 55.9L157.2 55.9Z" fill="#e3161b" stroke="#e3161b" stroke-width="0.4" stroke-linejoin="round"/>
<path d="M162.5 50.8L165.6 56.0L159.4 56.0Z" fill="#e3161b" stroke="#e3161b" stroke-width="0.4" stroke-linejoin="round"/>
<path d="M158.5 54.6L161.6 59.9L155.4 59.9Z" fill="#e3161b" stroke="#e3161b" stroke-width="0.4" stroke-linejoin="round"/>
<path d="M156.5 58.1L159.6 63.4L153.4 63.4Z" fill="#e3161b" stroke="#e3161b" stroke-width="0.4" stroke-linejoin="round"/>
<path d="M155.0 61.6L158.1 66.9L151.9 66.9Z" fill="#e3161b" stroke="#e3161b" stroke-width="0.4" stroke-linejoin="round"/>
<path d="M157.5 61.6L160.6 66.9L154.4 66.9Z" fill="#e3161b" stroke="#e3161b" stroke-width="0.4" stroke-linejoin="round"/>
<path d="M163.8 65.6L166.9 71.0L160.8 71.0Z" fill="#e3161b" stroke="#e3161b" stroke-width="0.4" stroke-linejoin="round"/>
<path d="M153.8 69.9L156.9 75.2L150.8 75.2Z" fill="#e3161b" stroke="#e3161b" stroke-width="0.4" stroke-linejoin="round"/>
<path d="M158.3 69.9L161.4 75.2L155.2 75.2Z" fill="#e3161b" stroke="#e3161b" stroke-width="0.4" stroke-linejoin="round"/>
<path d="M157.0 74.8L160.1 80.2L153.9 80.2Z" fill="#e3161b" stroke="#e3161b" stroke-width="0.4" stroke-linejoin="round"/>
<path d="M160.3 74.3L163.4 79.7L157.2 79.7Z" fill="#e3161b" stroke="#e3161b" stroke-width="0.4" stroke-linejoin="round"/>
<path d="M163.5 75.3L166.6 80.7L160.4 80.7Z" fill="#e3161b" stroke="#e3161b" stroke-width="0.4" stroke-linejoin="round"/>
<path d="M154.5 78.8L157.6 84.2L151.4 84.2Z" fill="#e3161b" stroke="#e3161b" stroke-width="0.4" stroke-linejoin="round"/>
<path d="M161.5 78.8L164.6 84.2L158.4 84.2Z" fill="#e3161b" stroke="#e3161b" stroke-width="0.4" stroke-linejoin="round"/>
<path d="M153.2 85.8L156.2 91.2L150.1 91.2Z" fill="#e3161b" stroke="#e3161b" stroke-width="0.4" stroke-linejoin="round"/>
<path d="M157.0 86.3L160.1 91.7L153.9 91.7Z" fill="#e3161b" stroke="#e3161b" stroke-width="0.4" stroke-linejoin="round"/>
<path d="M161.0 85.8L164.1 91.2L157.9 91.2Z" fill="#e3161b" stroke="#e3161b" stroke-width="0.4" stroke-linejoin="round"/>
<path d="M164.3 84.8L167.4 90.2L161.2 90.2Z" fill="#e3161b" stroke="#e3161b" stroke-width="0.4" stroke-linejoin="round"/>
<path d="M154.3 90.6L157.4 96.0L151.2 96.0Z" fill="#e3161b" stroke="#e3161b" stroke-width="0.4" stroke-linejoin="round"/>
<path d="M158.5 90.8L161.6 96.2L155.4 96.2Z" fill="#e3161b" stroke="#e3161b" stroke-width="0.4" stroke-linejoin="round"/>
<path d="M161.8 90.3L164.9 95.7L158.8 95.7Z" fill="#e3161b" stroke="#e3161b" stroke-width="0.4" stroke-linejoin="round"/>
<path d="M159.3 95.8L162.4 101.2L156.2 101.2Z" fill="#e3161b" stroke="#e3161b" stroke-width="0.4" stroke-linejoin="round"/>
<path d="M156.3 103.5L159.4 108.9L153.2 108.9Z" fill="#e3161b" stroke="#e3161b" stroke-width="0.4" stroke-linejoin="round"/>
<path d="M162.0 103.6L165.1 109.0L158.9 109.0Z" fill="#e3161b" stroke="#e3161b" stroke-width="0.4" stroke-linejoin="round"/>
<path d="M160.8 108.3L163.9 113.7L157.8 113.7Z" fill="#e3161b" stroke="#e3161b" stroke-width="0.4" stroke-linejoin="round"/>
<path d="M160.6 126.0L163.7 131.3L157.5 131.3Z" fill="#e3161b" stroke="#e3161b" stroke-width="0.4" stroke-linejoin="round"/>
<path d="M161.9 140.3L165.0 145.7L158.8 145.7Z" fill="#e3161b" stroke="#e3161b" stroke-width="0.4" stroke-linejoin="round"/>
<circle cx="186.5" cy="75.8" r="2.35" fill="#e3161b" stroke="#e3161b" stroke-width="0.4"/>
<circle cx="191.1" cy="80.0" r="2.35" fill="#e3161b" stroke="#e3161b" stroke-width="0.4"/>
<circle cx="185.8" cy="82.1" r="2.35" fill="#e3161b" stroke="#e3161b" stroke-width="0.4"/>
<circle cx="182.6" cy="84.2" r="2.35" fill="#e3161b" stroke="#e3161b" stroke-width="0.4"/>
<circle cx="188.4" cy="84.8" r="2.35" fill="#e3161b" stroke="#e3161b" stroke-width="0.4"/>
<circle cx="183.1" cy="87.5" r="2.35" fill="#e3161b" stroke="#e3161b" stroke-width="0.4"/>
<circle cx="186.2" cy="87.5" r="2.35" fill="#e3161b" stroke="#e3161b" stroke-width="0.4"/>
<circle cx="192.5" cy="87.9" r="2.35" fill="#e3161b" stroke="#e3161b" stroke-width="0.4"/>
<circle cx="191.1" cy="90.2" r="2.35" fill="#e3161b" stroke="#e3161b" stroke-width="0.4"/>
<circle cx="183.5" cy="91.5" r="2.35" fill="#e3161b" stroke="#e3161b" stroke-width="0.4"/>
<circle cx="187.1" cy="92.4" r="2.35" fill="#e3161b" stroke="#e3161b" stroke-width="0.4"/>
<circle cx="191.6" cy="96.3" r="2.35" fill="#e3161b" stroke="#e3161b" stroke-width="0.4"/>
<circle cx="192.0" cy="98.5" r="2.35" fill="#e3161b" stroke="#e3161b" stroke-width="0.4"/>
<circle cx="184.0" cy="97.5" r="2.35" fill="#e3161b" stroke="#e3161b" stroke-width="0.4"/>
<circle cx="183.5" cy="102.5" r="2.35" fill="#e3161b" stroke="#e3161b" stroke-width="0.4"/>
<circle cx="187.5" cy="102.5" r="2.35" fill="#e3161b" stroke="#e3161b" stroke-width="0.4"/>
<circle cx="190.7" cy="100.3" r="2.35" fill="#e3161b" stroke="#e3161b" stroke-width="0.4"/>
<circle cx="183.5" cy="105.0" r="2.35" fill="#e3161b" stroke="#e3161b" stroke-width="0.4"/>
<circle cx="187.1" cy="105.0" r="2.35" fill="#e3161b" stroke="#e3161b" stroke-width="0.4"/>
<circle cx="184.9" cy="107.5" r="2.35" fill="#e3161b" stroke="#e3161b" stroke-width="0.4"/>
<circle cx="182.4" cy="110.8" r="2.35" fill="#e3161b" stroke="#e3161b" stroke-width="0.4"/>
<circle cx="186.2" cy="111.5" r="2.35" fill="#e3161b" stroke="#e3161b" stroke-width="0.4"/>
<circle cx="188.6" cy="113.5" r="2.35" fill="#e3161b" stroke="#e3161b" stroke-width="0.4"/>
<circle cx="191.6" cy="114.4" r="2.35" fill="#e3161b" stroke="#e3161b" stroke-width="0.4"/>
<circle cx="183.0" cy="113.3" r="2.35" fill="#e3161b" stroke="#e3161b" stroke-width="0.4"/>
<circle cx="189.8" cy="120.5" r="2.35" fill="#e3161b" stroke="#e3161b" stroke-width="0.4"/>
<circle cx="189.8" cy="124.6" r="2.35" fill="#e3161b" stroke="#e3161b" stroke-width="0.4"/>
<circle cx="189.3" cy="128.8" r="2.35" fill="#e3161b" stroke="#e3161b" stroke-width="0.4"/>
<circle cx="189.4" cy="131.0" r="2.35" fill="#e3161b" stroke="#e3161b" stroke-width="0.4"/>
<circle cx="190.5" cy="153.6" r="2.35" fill="#e3161b" stroke="#e3161b" stroke-width="0.4"/>
<circle cx="186.0" cy="85.5" r="2.35" fill="#e3161b" stroke="#e3161b" stroke-width="0.4"/>
<circle cx="188.5" cy="89.0" r="2.35" fill="#e3161b" stroke="#e3161b" stroke-width="0.4"/>
<circle cx="185.5" cy="90.0" r="2.35" fill="#e3161b" stroke="#e3161b" stroke-width="0.4"/>
<circle cx="189.5" cy="93.0" r="2.35" fill="#e3161b" stroke="#e3161b" stroke-width="0.4"/>
<path d="M257.2 34.1L260.2 39.4L254.1 39.4Z" fill="#2b73c2" stroke="#2b73c2" stroke-width="0.4" stroke-linejoin="round"/>
<path d="M261.6 34.1L264.7 39.4L258.6 39.4Z" fill="#2b73c2" stroke="#2b73c2" stroke-width="0.4" stroke-linejoin="round"/>
<path d="M266.5 36.6L269.6 41.9L263.4 41.9Z" fill="#2b73c2" stroke="#2b73c2" stroke-width="0.4" stroke-linejoin="round"/>
<path d="M256.5 37.9L259.6 43.1L253.4 43.1Z" fill="#2b73c2" stroke="#2b73c2" stroke-width="0.4" stroke-linejoin="round"/>
<path d="M260.5 37.9L263.6 43.1L257.4 43.1Z" fill="#2b73c2" stroke="#2b73c2" stroke-width="0.4" stroke-linejoin="round"/>
<path d="M264.5 38.9L267.6 44.1L261.4 44.1Z" fill="#2b73c2" stroke="#2b73c2" stroke-width="0.4" stroke-linejoin="round"/>
<path d="M267.0 40.9L270.1 46.1L263.9 46.1Z" fill="#2b73c2" stroke="#2b73c2" stroke-width="0.4" stroke-linejoin="round"/>
<path d="M257.0 41.4L260.1 46.6L253.9 46.6Z" fill="#2b73c2" stroke="#2b73c2" stroke-width="0.4" stroke-linejoin="round"/>
<path d="M261.0 41.4L264.1 46.6L257.9 46.6Z" fill="#2b73c2" stroke="#2b73c2" stroke-width="0.4" stroke-linejoin="round"/>
<path d="M265.0 42.9L268.1 48.1L261.9 48.1Z" fill="#2b73c2" stroke="#2b73c2" stroke-width="0.4" stroke-linejoin="round"/>
<path d="M257.5 45.4L260.6 50.6L254.4 50.6Z" fill="#2b73c2" stroke="#2b73c2" stroke-width="0.4" stroke-linejoin="round"/>
<path d="M266.5 45.9L269.6 51.1L263.4 51.1Z" fill="#2b73c2" stroke="#2b73c2" stroke-width="0.4" stroke-linejoin="round"/>
<path d="M260.0 45.9L263.1 51.1L256.9 51.1Z" fill="#2b73c2" stroke="#2b73c2" stroke-width="0.4" stroke-linejoin="round"/>
<path d="M263.5 48.9L266.6 54.1L260.4 54.1Z" fill="#2b73c2" stroke="#2b73c2" stroke-width="0.4" stroke-linejoin="round"/>
<path d="M257.5 48.9L260.6 54.1L254.4 54.1Z" fill="#2b73c2" stroke="#2b73c2" stroke-width="0.4" stroke-linejoin="round"/>
<path d="M266.5 48.9L269.6 54.1L263.4 54.1Z" fill="#2b73c2" stroke="#2b73c2" stroke-width="0.4" stroke-linejoin="round"/>
<path d="M265.2 54.1L268.2 59.4L262.1 59.4Z" fill="#2b73c2" stroke="#2b73c2" stroke-width="0.4" stroke-linejoin="round"/>
<path d="M261.2 56.6L264.2 61.9L258.1 61.9Z" fill="#2b73c2" stroke="#2b73c2" stroke-width="0.4" stroke-linejoin="round"/>
<path d="M263.0 59.9L266.1 65.2L259.9 65.2Z" fill="#2b73c2" stroke="#2b73c2" stroke-width="0.4" stroke-linejoin="round"/>
<path d="M257.8 61.9L260.9 67.2L254.8 67.2Z" fill="#2b73c2" stroke="#2b73c2" stroke-width="0.4" stroke-linejoin="round"/>
<path d="M261.5 61.9L264.6 67.2L258.4 67.2Z" fill="#2b73c2" stroke="#2b73c2" stroke-width="0.4" stroke-linejoin="round"/>
<path d="M265.6 91.9L268.7 97.2L262.6 97.2Z" fill="#2b73c2" stroke="#2b73c2" stroke-width="0.4" stroke-linejoin="round"/>
<circle cx="294.3" cy="44.7" r="2.35" fill="#2b73c2" stroke="#2b73c2" stroke-width="0.4"/>
<circle cx="295.5" cy="47.4" r="2.35" fill="#2b73c2" stroke="#2b73c2" stroke-width="0.4"/>
<circle cx="294.6" cy="49.6" r="2.35" fill="#2b73c2" stroke="#2b73c2" stroke-width="0.4"/>
<circle cx="286.5" cy="49.2" r="2.35" fill="#2b73c2" stroke="#2b73c2" stroke-width="0.4"/>
<circle cx="287.4" cy="51.4" r="2.35" fill="#2b73c2" stroke="#2b73c2" stroke-width="0.4"/>
<circle cx="292.8" cy="52.3" r="2.35" fill="#2b73c2" stroke="#2b73c2" stroke-width="0.4"/>
<circle cx="285.6" cy="53.7" r="2.35" fill="#2b73c2" stroke="#2b73c2" stroke-width="0.4"/>
<circle cx="290.5" cy="54.6" r="2.35" fill="#2b73c2" stroke="#2b73c2" stroke-width="0.4"/>
<circle cx="287.4" cy="55.9" r="2.35" fill="#2b73c2" stroke="#2b73c2" stroke-width="0.4"/>
<circle cx="286.1" cy="58.6" r="2.35" fill="#2b73c2" stroke="#2b73c2" stroke-width="0.4"/>
<circle cx="294.6" cy="59.5" r="2.35" fill="#2b73c2" stroke="#2b73c2" stroke-width="0.4"/>
<circle cx="289.6" cy="60.4" r="2.35" fill="#2b73c2" stroke="#2b73c2" stroke-width="0.4"/>
<circle cx="287.0" cy="62.5" r="2.35" fill="#2b73c2" stroke="#2b73c2" stroke-width="0.4"/>
<circle cx="295.0" cy="67.0" r="2.35" fill="#2b73c2" stroke="#2b73c2" stroke-width="0.4"/>
<circle cx="286.5" cy="68.8" r="2.35" fill="#2b73c2" stroke="#2b73c2" stroke-width="0.4"/>
<circle cx="290.5" cy="69.6" r="2.35" fill="#2b73c2" stroke="#2b73c2" stroke-width="0.4"/>
<circle cx="293.2" cy="71.0" r="2.35" fill="#2b73c2" stroke="#2b73c2" stroke-width="0.4"/>
<circle cx="286.5" cy="75.0" r="2.35" fill="#2b73c2" stroke="#2b73c2" stroke-width="0.4"/>
<circle cx="290.5" cy="75.9" r="2.35" fill="#2b73c2" stroke="#2b73c2" stroke-width="0.4"/>
<circle cx="289.2" cy="78.2" r="2.35" fill="#2b73c2" stroke="#2b73c2" stroke-width="0.4"/>
<circle cx="295.0" cy="79.1" r="2.35" fill="#2b73c2" stroke="#2b73c2" stroke-width="0.4"/>
<circle cx="293.2" cy="77.3" r="2.35" fill="#2b73c2" stroke="#2b73c2" stroke-width="0.4"/>
<circle cx="295.0" cy="80.0" r="2.35" fill="#2b73c2" stroke="#2b73c2" stroke-width="0.4"/>
<circle cx="289.8" cy="89.4" r="2.35" fill="#2b73c2" stroke="#2b73c2" stroke-width="0.4"/>
<circle cx="295.7" cy="91.5" r="2.35" fill="#2b73c2" stroke="#2b73c2" stroke-width="0.4"/>
<circle cx="294.1" cy="107.8" r="2.35" fill="#2b73c2" stroke="#2b73c2" stroke-width="0.4"/>
<path d="M401.0 97.0L404.1 102.4L397.9 102.4Z" fill="#5fb12f" stroke="#5fb12f" stroke-width="0.4" stroke-linejoin="round"/>
<path d="M407.3 113.5L410.4 118.9L404.2 118.9Z" fill="#5fb12f" stroke="#5fb12f" stroke-width="0.4" stroke-linejoin="round"/>
<path d="M403.3 120.3L406.4 125.7L400.2 125.7Z" fill="#5fb12f" stroke="#5fb12f" stroke-width="0.4" stroke-linejoin="round"/>
<path d="M407.3 120.0L410.4 125.4L404.2 125.4Z" fill="#5fb12f" stroke="#5fb12f" stroke-width="0.4" stroke-linejoin="round"/>
<path d="M406.0 123.1L409.1 128.4L402.9 128.4Z" fill="#5fb12f" stroke="#5fb12f" stroke-width="0.4" stroke-linejoin="round"/>
<path d="M401.1 126.2L404.2 131.6L398.1 131.6Z" fill="#5fb12f" stroke="#5fb12f" stroke-width="0.4" stroke-linejoin="round"/>
<path d="M407.8 129.3L410.9 134.7L404.8 134.7Z" fill="#5fb12f" stroke="#5fb12f" stroke-width="0.4" stroke-linejoin="round"/>
<path d="M403.3 130.3L406.4 135.7L400.2 135.7Z" fill="#5fb12f" stroke="#5fb12f" stroke-width="0.4" stroke-linejoin="round"/>
<path d="M404.6 135.5L407.7 140.8L401.6 140.8Z" fill="#5fb12f" stroke="#5fb12f" stroke-width="0.4" stroke-linejoin="round"/>
<path d="M402.5 138.8L405.6 144.2L399.4 144.2Z" fill="#5fb12f" stroke="#5fb12f" stroke-width="0.4" stroke-linejoin="round"/>
<path d="M407.0 138.3L410.1 143.7L403.9 143.7Z" fill="#5fb12f" stroke="#5fb12f" stroke-width="0.4" stroke-linejoin="round"/>
<path d="M401.0 141.8L404.1 147.2L397.9 147.2Z" fill="#5fb12f" stroke="#5fb12f" stroke-width="0.4" stroke-linejoin="round"/>
<path d="M409.0 142.3L412.1 147.7L405.9 147.7Z" fill="#5fb12f" stroke="#5fb12f" stroke-width="0.4" stroke-linejoin="round"/>
<path d="M400.5 147.8L403.6 153.2L397.4 153.2Z" fill="#5fb12f" stroke="#5fb12f" stroke-width="0.4" stroke-linejoin="round"/>
<path d="M404.5 148.3L407.6 153.7L401.4 153.7Z" fill="#5fb12f" stroke="#5fb12f" stroke-width="0.4" stroke-linejoin="round"/>
<path d="M409.0 148.3L412.1 153.7L405.9 153.7Z" fill="#5fb12f" stroke="#5fb12f" stroke-width="0.4" stroke-linejoin="round"/>
<path d="M401.0 152.8L404.1 158.2L397.9 158.2Z" fill="#5fb12f" stroke="#5fb12f" stroke-width="0.4" stroke-linejoin="round"/>
<path d="M405.0 152.3L408.1 157.7L401.9 157.7Z" fill="#5fb12f" stroke="#5fb12f" stroke-width="0.4" stroke-linejoin="round"/>
<path d="M409.5 152.8L412.6 158.2L406.4 158.2Z" fill="#5fb12f" stroke="#5fb12f" stroke-width="0.4" stroke-linejoin="round"/>
<path d="M400.5 155.8L403.6 161.2L397.4 161.2Z" fill="#5fb12f" stroke="#5fb12f" stroke-width="0.4" stroke-linejoin="round"/>
<path d="M404.5 155.8L407.6 161.2L401.4 161.2Z" fill="#5fb12f" stroke="#5fb12f" stroke-width="0.4" stroke-linejoin="round"/>
<path d="M409.5 155.8L412.6 161.2L406.4 161.2Z" fill="#5fb12f" stroke="#5fb12f" stroke-width="0.4" stroke-linejoin="round"/>
<path d="M402.0 159.8L405.1 165.2L398.9 165.2Z" fill="#5fb12f" stroke="#5fb12f" stroke-width="0.4" stroke-linejoin="round"/>
<path d="M403.0 162.8L406.1 168.2L399.9 168.2Z" fill="#5fb12f" stroke="#5fb12f" stroke-width="0.4" stroke-linejoin="round"/>
<circle cx="431.8" cy="94.7" r="2.35" fill="#5fb12f" stroke="#5fb12f" stroke-width="0.4"/>
<circle cx="438.2" cy="109.3" r="2.35" fill="#5fb12f" stroke="#5fb12f" stroke-width="0.4"/>
<circle cx="433.8" cy="114.9" r="2.35" fill="#5fb12f" stroke="#5fb12f" stroke-width="0.4"/>
<circle cx="438.7" cy="124.9" r="2.35" fill="#5fb12f" stroke="#5fb12f" stroke-width="0.4"/>
<circle cx="436.4" cy="126.5" r="2.35" fill="#5fb12f" stroke="#5fb12f" stroke-width="0.4"/>
<circle cx="432.0" cy="128.7" r="2.35" fill="#5fb12f" stroke="#5fb12f" stroke-width="0.4"/>
<circle cx="432.4" cy="129.5" r="2.35" fill="#5fb12f" stroke="#5fb12f" stroke-width="0.4"/>
<circle cx="435.5" cy="136.1" r="2.35" fill="#5fb12f" stroke="#5fb12f" stroke-width="0.4"/>
<circle cx="436.9" cy="137.9" r="2.35" fill="#5fb12f" stroke="#5fb12f" stroke-width="0.4"/>
<circle cx="430.6" cy="139.2" r="2.35" fill="#5fb12f" stroke="#5fb12f" stroke-width="0.4"/>
<circle cx="432.9" cy="140.1" r="2.35" fill="#5fb12f" stroke="#5fb12f" stroke-width="0.4"/>
<circle cx="437.8" cy="139.6" r="2.35" fill="#5fb12f" stroke="#5fb12f" stroke-width="0.4"/>
<circle cx="440.5" cy="141.9" r="2.35" fill="#5fb12f" stroke="#5fb12f" stroke-width="0.4"/>
<circle cx="430.6" cy="142.3" r="2.35" fill="#5fb12f" stroke="#5fb12f" stroke-width="0.4"/>
<circle cx="440.5" cy="145.9" r="2.35" fill="#5fb12f" stroke="#5fb12f" stroke-width="0.4"/>
<circle cx="431.1" cy="147.7" r="2.35" fill="#5fb12f" stroke="#5fb12f" stroke-width="0.4"/>
<circle cx="434.6" cy="149.1" r="2.35" fill="#5fb12f" stroke="#5fb12f" stroke-width="0.4"/>
<circle cx="437.8" cy="148.2" r="2.35" fill="#5fb12f" stroke="#5fb12f" stroke-width="0.4"/>
<circle cx="440.9" cy="149.1" r="2.35" fill="#5fb12f" stroke="#5fb12f" stroke-width="0.4"/>
<circle cx="432.4" cy="151.7" r="2.35" fill="#5fb12f" stroke="#5fb12f" stroke-width="0.4"/>
<circle cx="436.5" cy="152.5" r="2.35" fill="#5fb12f" stroke="#5fb12f" stroke-width="0.4"/>
<circle cx="439.4" cy="154.3" r="2.35" fill="#5fb12f" stroke="#5fb12f" stroke-width="0.4"/>
<circle cx="431.5" cy="159.3" r="2.35" fill="#5fb12f" stroke="#5fb12f" stroke-width="0.4"/>
<circle cx="435.8" cy="160.8" r="2.35" fill="#5fb12f" stroke="#5fb12f" stroke-width="0.4"/>
<circle cx="440.8" cy="158.9" r="2.35" fill="#5fb12f" stroke="#5fb12f" stroke-width="0.4"/>
<circle cx="434.4" cy="165.5" r="2.35" fill="#5fb12f" stroke="#5fb12f" stroke-width="0.4"/>
<path d="M502.9 53.0L505.9 58.2L499.8 58.2Z" fill="#e3161b" stroke="#e3161b" stroke-width="0.4" stroke-linejoin="round"/>
<path d="M509.4 97.8L512.4 103.2L506.3 103.2Z" fill="#e3161b" stroke="#e3161b" stroke-width="0.4" stroke-linejoin="round"/>
<path d="M510.2 116.2L513.2 121.6L507.1 121.6Z" fill="#e3161b" stroke="#e3161b" stroke-width="0.4" stroke-linejoin="round"/>
<path d="M512.2 116.6L515.2 122.0L509.2 122.0Z" fill="#e3161b" stroke="#e3161b" stroke-width="0.4" stroke-linejoin="round"/>
<path d="M510.7 123.5L513.8 128.8L507.6 128.8Z" fill="#e3161b" stroke="#e3161b" stroke-width="0.4" stroke-linejoin="round"/>
<path d="M510.2 127.7L513.2 133.0L507.1 133.0Z" fill="#e3161b" stroke="#e3161b" stroke-width="0.4" stroke-linejoin="round"/>
<path d="M505.3 128.9L508.4 134.2L502.2 134.2Z" fill="#e3161b" stroke="#e3161b" stroke-width="0.4" stroke-linejoin="round"/>
<path d="M511.0 139.2L514.0 144.5L507.9 144.5Z" fill="#e3161b" stroke="#e3161b" stroke-width="0.4" stroke-linejoin="round"/>
<path d="M506.6 145.3L509.7 150.7L503.6 150.7Z" fill="#e3161b" stroke="#e3161b" stroke-width="0.4" stroke-linejoin="round"/>
<path d="M504.5 148.3L507.6 153.7L501.4 153.7Z" fill="#e3161b" stroke="#e3161b" stroke-width="0.4" stroke-linejoin="round"/>
<path d="M509.0 148.3L512.0 153.7L505.9 153.7Z" fill="#e3161b" stroke="#e3161b" stroke-width="0.4" stroke-linejoin="round"/>
<path d="M503.0 151.8L506.1 157.2L499.9 157.2Z" fill="#e3161b" stroke="#e3161b" stroke-width="0.4" stroke-linejoin="round"/>
<path d="M510.5 151.8L513.5 157.2L507.4 157.2Z" fill="#e3161b" stroke="#e3161b" stroke-width="0.4" stroke-linejoin="round"/>
<path d="M504.0 154.8L507.1 160.2L500.9 160.2Z" fill="#e3161b" stroke="#e3161b" stroke-width="0.4" stroke-linejoin="round"/>
<path d="M509.5 155.3L512.5 160.7L506.4 160.7Z" fill="#e3161b" stroke="#e3161b" stroke-width="0.4" stroke-linejoin="round"/>
<path d="M503.5 158.3L506.6 163.7L500.4 163.7Z" fill="#e3161b" stroke="#e3161b" stroke-width="0.4" stroke-linejoin="round"/>
<path d="M508.0 158.3L511.1 163.7L504.9 163.7Z" fill="#e3161b" stroke="#e3161b" stroke-width="0.4" stroke-linejoin="round"/>
<path d="M511.0 158.8L514.0 164.2L507.9 164.2Z" fill="#e3161b" stroke="#e3161b" stroke-width="0.4" stroke-linejoin="round"/>
<path d="M503.0 161.3L506.1 166.7L499.9 166.7Z" fill="#e3161b" stroke="#e3161b" stroke-width="0.4" stroke-linejoin="round"/>
<path d="M511.5 161.3L514.5 166.7L508.4 166.7Z" fill="#e3161b" stroke="#e3161b" stroke-width="0.4" stroke-linejoin="round"/>
<path d="M508.0 165.9L511.1 171.2L504.9 171.2Z" fill="#e3161b" stroke="#e3161b" stroke-width="0.4" stroke-linejoin="round"/>
<path d="M512.0 168.7L515.0 174.0L508.9 174.0Z" fill="#e3161b" stroke="#e3161b" stroke-width="0.4" stroke-linejoin="round"/>
<path d="M505.5 169.8L508.6 175.2L502.4 175.2Z" fill="#e3161b" stroke="#e3161b" stroke-width="0.4" stroke-linejoin="round"/>
<path d="M509.5 170.8L512.5 176.2L506.4 176.2Z" fill="#e3161b" stroke="#e3161b" stroke-width="0.4" stroke-linejoin="round"/>
<path d="M503.5 177.8L506.6 183.2L500.4 183.2Z" fill="#e3161b" stroke="#e3161b" stroke-width="0.4" stroke-linejoin="round"/>
<path d="M506.5 178.3L509.6 183.7L503.4 183.7Z" fill="#e3161b" stroke="#e3161b" stroke-width="0.4" stroke-linejoin="round"/>
<path d="M505.9 185.3L508.9 190.7L502.8 190.7Z" fill="#e3161b" stroke="#e3161b" stroke-width="0.4" stroke-linejoin="round"/>
<circle cx="534.0" cy="76.9" r="2.35" fill="#e3161b" stroke="#e3161b" stroke-width="0.4"/>
<circle cx="540.0" cy="106.6" r="2.35" fill="#e3161b" stroke="#e3161b" stroke-width="0.4"/>
<circle cx="543.0" cy="115.2" r="2.35" fill="#e3161b" stroke="#e3161b" stroke-width="0.4"/>
<circle cx="540.7" cy="121.1" r="2.35" fill="#e3161b" stroke="#e3161b" stroke-width="0.4"/>
<circle cx="536.2" cy="122.5" r="2.35" fill="#e3161b" stroke="#e3161b" stroke-width="0.4"/>
<circle cx="538.0" cy="130.8" r="2.35" fill="#e3161b" stroke="#e3161b" stroke-width="0.4"/>
<circle cx="541.1" cy="130.0" r="2.35" fill="#e3161b" stroke="#e3161b" stroke-width="0.4"/>
<circle cx="540.4" cy="132.7" r="2.35" fill="#e3161b" stroke="#e3161b" stroke-width="0.4"/>
<circle cx="541.6" cy="139.5" r="2.35" fill="#e3161b" stroke="#e3161b" stroke-width="0.4"/>
<circle cx="536.6" cy="143.1" r="2.35" fill="#e3161b" stroke="#e3161b" stroke-width="0.4"/>
<circle cx="539.3" cy="142.5" r="2.35" fill="#e3161b" stroke="#e3161b" stroke-width="0.4"/>
<circle cx="540.2" cy="148.1" r="2.35" fill="#e3161b" stroke="#e3161b" stroke-width="0.4"/>
<circle cx="536.2" cy="149.9" r="2.35" fill="#e3161b" stroke="#e3161b" stroke-width="0.4"/>
<circle cx="534.0" cy="153.9" r="2.35" fill="#e3161b" stroke="#e3161b" stroke-width="0.4"/>
<circle cx="541.6" cy="156.1" r="2.35" fill="#e3161b" stroke="#e3161b" stroke-width="0.4"/>
<circle cx="533.5" cy="157.5" r="2.35" fill="#e3161b" stroke="#e3161b" stroke-width="0.4"/>
<circle cx="533.1" cy="161.1" r="2.35" fill="#e3161b" stroke="#e3161b" stroke-width="0.4"/>
<circle cx="537.1" cy="160.2" r="2.35" fill="#e3161b" stroke="#e3161b" stroke-width="0.4"/>
<circle cx="542.5" cy="159.3" r="2.35" fill="#e3161b" stroke="#e3161b" stroke-width="0.4"/>
<circle cx="542.0" cy="162.4" r="2.35" fill="#e3161b" stroke="#e3161b" stroke-width="0.4"/>
<circle cx="534.1" cy="163.2" r="2.35" fill="#e3161b" stroke="#e3161b" stroke-width="0.4"/>
<circle cx="537.3" cy="163.2" r="2.35" fill="#e3161b" stroke="#e3161b" stroke-width="0.4"/>
<circle cx="542.2" cy="163.2" r="2.35" fill="#e3161b" stroke="#e3161b" stroke-width="0.4"/>
<circle cx="539.5" cy="168.6" r="2.35" fill="#e3161b" stroke="#e3161b" stroke-width="0.4"/>
<circle cx="542.2" cy="170.7" r="2.35" fill="#e3161b" stroke="#e3161b" stroke-width="0.4"/>
<circle cx="535.7" cy="173.9" r="2.35" fill="#e3161b" stroke="#e3161b" stroke-width="0.4"/>
<circle cx="540.0" cy="173.4" r="2.35" fill="#e3161b" stroke="#e3161b" stroke-width="0.4"/>
<circle cx="543.0" cy="175.0" r="2.35" fill="#e3161b" stroke="#e3161b" stroke-width="0.4"/>
<circle cx="534.7" cy="178.8" r="2.35" fill="#e3161b" stroke="#e3161b" stroke-width="0.4"/>
<circle cx="534.1" cy="181.5" r="2.35" fill="#e3161b" stroke="#e3161b" stroke-width="0.4"/>
<circle cx="536.8" cy="185.8" r="2.35" fill="#e3161b" stroke="#e3161b" stroke-width="0.4"/>
<path d="M606.1 82.8L609.1 88.1L603.1 88.1Z" fill="#2b73c2" stroke="#2b73c2" stroke-width="0.4" stroke-linejoin="round"/>
<path d="M612.0 120.9L615.0 126.2L609.0 126.2Z" fill="#2b73c2" stroke="#2b73c2" stroke-width="0.4" stroke-linejoin="round"/>
<path d="M612.7 132.8L615.8 138.1L609.7 138.1Z" fill="#2b73c2" stroke="#2b73c2" stroke-width="0.4" stroke-linejoin="round"/>
<path d="M612.7 135.9L615.8 141.2L609.7 141.2Z" fill="#2b73c2" stroke="#2b73c2" stroke-width="0.4" stroke-linejoin="round"/>
<path d="M607.9 140.3L610.9 145.7L604.9 145.7Z" fill="#2b73c2" stroke="#2b73c2" stroke-width="0.4" stroke-linejoin="round"/>
<path d="M607.5 143.8L610.5 149.2L604.5 149.2Z" fill="#2b73c2" stroke="#2b73c2" stroke-width="0.4" stroke-linejoin="round"/>
<path d="M606.0 146.8L609.0 152.2L603.0 152.2Z" fill="#2b73c2" stroke="#2b73c2" stroke-width="0.4" stroke-linejoin="round"/>
<path d="M609.5 147.3L612.5 152.7L606.5 152.7Z" fill="#2b73c2" stroke="#2b73c2" stroke-width="0.4" stroke-linejoin="round"/>
<path d="M607.5 150.3L610.5 155.7L604.5 155.7Z" fill="#2b73c2" stroke="#2b73c2" stroke-width="0.4" stroke-linejoin="round"/>
<path d="M611.0 151.8L614.0 157.2L608.0 157.2Z" fill="#2b73c2" stroke="#2b73c2" stroke-width="0.4" stroke-linejoin="round"/>
<path d="M606.0 153.8L609.0 159.2L603.0 159.2Z" fill="#2b73c2" stroke="#2b73c2" stroke-width="0.4" stroke-linejoin="round"/>
<path d="M610.0 154.8L613.0 160.2L607.0 160.2Z" fill="#2b73c2" stroke="#2b73c2" stroke-width="0.4" stroke-linejoin="round"/>
<path d="M613.5 156.3L616.5 161.7L610.5 161.7Z" fill="#2b73c2" stroke="#2b73c2" stroke-width="0.4" stroke-linejoin="round"/>
<path d="M605.0 160.3L608.0 165.7L602.0 165.7Z" fill="#2b73c2" stroke="#2b73c2" stroke-width="0.4" stroke-linejoin="round"/>
<path d="M611.0 159.3L614.0 164.7L608.0 164.7Z" fill="#2b73c2" stroke="#2b73c2" stroke-width="0.4" stroke-linejoin="round"/>
<path d="M614.5 160.3L617.5 165.7L611.5 165.7Z" fill="#2b73c2" stroke="#2b73c2" stroke-width="0.4" stroke-linejoin="round"/>
<path d="M607.0 163.3L610.0 168.7L604.0 168.7Z" fill="#2b73c2" stroke="#2b73c2" stroke-width="0.4" stroke-linejoin="round"/>
<path d="M612.0 163.8L615.0 169.2L609.0 169.2Z" fill="#2b73c2" stroke="#2b73c2" stroke-width="0.4" stroke-linejoin="round"/>
<path d="M605.0 166.8L608.0 172.2L602.0 172.2Z" fill="#2b73c2" stroke="#2b73c2" stroke-width="0.4" stroke-linejoin="round"/>
<path d="M609.0 166.8L612.0 172.2L606.0 172.2Z" fill="#2b73c2" stroke="#2b73c2" stroke-width="0.4" stroke-linejoin="round"/>
<path d="M614.0 167.3L617.0 172.7L611.0 172.7Z" fill="#2b73c2" stroke="#2b73c2" stroke-width="0.4" stroke-linejoin="round"/>
<path d="M608.0 170.8L611.0 176.2L605.0 176.2Z" fill="#2b73c2" stroke="#2b73c2" stroke-width="0.4" stroke-linejoin="round"/>
<path d="M611.5 171.3L614.5 176.7L608.5 176.7Z" fill="#2b73c2" stroke="#2b73c2" stroke-width="0.4" stroke-linejoin="round"/>
<path d="M607.9 171.8L610.9 177.2L604.9 177.2Z" fill="#2b73c2" stroke="#2b73c2" stroke-width="0.4" stroke-linejoin="round"/>
<path d="M605.5 178.3L608.5 183.7L602.5 183.7Z" fill="#2b73c2" stroke="#2b73c2" stroke-width="0.4" stroke-linejoin="round"/>
<path d="M608.5 178.3L611.5 183.7L605.5 183.7Z" fill="#2b73c2" stroke="#2b73c2" stroke-width="0.4" stroke-linejoin="round"/>
<path d="M615.0 177.5L618.0 182.8L612.0 182.8Z" fill="#2b73c2" stroke="#2b73c2" stroke-width="0.4" stroke-linejoin="round"/>
<path d="M608.6 183.8L611.6 189.2L605.6 189.2Z" fill="#2b73c2" stroke="#2b73c2" stroke-width="0.4" stroke-linejoin="round"/>
<circle cx="636.8" cy="77.7" r="2.35" fill="#2b73c2" stroke="#2b73c2" stroke-width="0.4"/>
<circle cx="642.7" cy="119.4" r="2.35" fill="#2b73c2" stroke="#2b73c2" stroke-width="0.4"/>
<circle cx="643.5" cy="126.3" r="2.35" fill="#2b73c2" stroke="#2b73c2" stroke-width="0.4"/>
<circle cx="638.8" cy="133.9" r="2.35" fill="#2b73c2" stroke="#2b73c2" stroke-width="0.4"/>
<circle cx="643.8" cy="135.8" r="2.35" fill="#2b73c2" stroke="#2b73c2" stroke-width="0.4"/>
<circle cx="640.1" cy="138.2" r="2.35" fill="#2b73c2" stroke="#2b73c2" stroke-width="0.4"/>
<circle cx="640.7" cy="136.0" r="2.35" fill="#2b73c2" stroke="#2b73c2" stroke-width="0.4"/>
<circle cx="642.9" cy="138.7" r="2.35" fill="#2b73c2" stroke="#2b73c2" stroke-width="0.4"/>
<circle cx="639.8" cy="143.2" r="2.35" fill="#2b73c2" stroke="#2b73c2" stroke-width="0.4"/>
<circle cx="636.6" cy="144.5" r="2.35" fill="#2b73c2" stroke="#2b73c2" stroke-width="0.4"/>
<circle cx="642.0" cy="148.1" r="2.35" fill="#2b73c2" stroke="#2b73c2" stroke-width="0.4"/>
<circle cx="645.6" cy="150.4" r="2.35" fill="#2b73c2" stroke="#2b73c2" stroke-width="0.4"/>
<circle cx="636.2" cy="151.3" r="2.35" fill="#2b73c2" stroke="#2b73c2" stroke-width="0.4"/>
<circle cx="639.8" cy="152.2" r="2.35" fill="#2b73c2" stroke="#2b73c2" stroke-width="0.4"/>
<circle cx="643.4" cy="152.2" r="2.35" fill="#2b73c2" stroke="#2b73c2" stroke-width="0.4"/>
<circle cx="644.7" cy="151.8" r="2.35" fill="#2b73c2" stroke="#2b73c2" stroke-width="0.4"/>
<circle cx="643.8" cy="155.8" r="2.35" fill="#2b73c2" stroke="#2b73c2" stroke-width="0.4"/>
<circle cx="645.2" cy="159.4" r="2.35" fill="#2b73c2" stroke="#2b73c2" stroke-width="0.4"/>
<circle cx="637.1" cy="162.1" r="2.35" fill="#2b73c2" stroke="#2b73c2" stroke-width="0.4"/>
<circle cx="640.7" cy="161.2" r="2.35" fill="#2b73c2" stroke="#2b73c2" stroke-width="0.4"/>
<circle cx="644.3" cy="162.5" r="2.35" fill="#2b73c2" stroke="#2b73c2" stroke-width="0.4"/>
<circle cx="636.2" cy="165.7" r="2.35" fill="#2b73c2" stroke="#2b73c2" stroke-width="0.4"/>
<circle cx="642.0" cy="165.7" r="2.35" fill="#2b73c2" stroke="#2b73c2" stroke-width="0.4"/>
<circle cx="637.1" cy="169.3" r="2.35" fill="#2b73c2" stroke="#2b73c2" stroke-width="0.4"/>
<circle cx="645.2" cy="169.3" r="2.35" fill="#2b73c2" stroke="#2b73c2" stroke-width="0.4"/>
<circle cx="638.0" cy="172.0" r="2.35" fill="#2b73c2" stroke="#2b73c2" stroke-width="0.4"/>
<circle cx="641.6" cy="172.0" r="2.35" fill="#2b73c2" stroke="#2b73c2" stroke-width="0.4"/>
<circle cx="644.9" cy="169.5" r="2.35" fill="#2b73c2" stroke="#2b73c2" stroke-width="0.4"/>
<circle cx="637.9" cy="170.9" r="2.35" fill="#2b73c2" stroke="#2b73c2" stroke-width="0.4"/>
<circle cx="641.1" cy="172.3" r="2.35" fill="#2b73c2" stroke="#2b73c2" stroke-width="0.4"/>
<circle cx="638.4" cy="174.1" r="2.35" fill="#2b73c2" stroke="#2b73c2" stroke-width="0.4"/>
<circle cx="636.3" cy="177.7" r="2.35" fill="#2b73c2" stroke="#2b73c2" stroke-width="0.4"/>
<circle cx="645.6" cy="180.6" r="2.35" fill="#2b73c2" stroke="#2b73c2" stroke-width="0.4"/>
<circle cx="639.8" cy="182.2" r="2.35" fill="#2b73c2" stroke="#2b73c2" stroke-width="0.4"/>
<circle cx="639.0" cy="184.9" r="2.35" fill="#2b73c2" stroke="#2b73c2" stroke-width="0.4"/>
<circle cx="635.8" cy="166.6" r="2.35" fill="#2b73c2" stroke="#2b73c2" stroke-width="0.4"/>
<circle cx="641.1" cy="166.1" r="2.35" fill="#2b73c2" stroke="#2b73c2" stroke-width="0.4"/>
<!-- mean lines -->
<g stroke="#2a2a2a" stroke-width="1" fill="none">
<path d="M55.3 69.9L158.4 86.4L262.5 49.3"/>
<path d="M83.8 82.4L186.9 100.1L290.5 64.9" stroke-dasharray="1.5 1.3"/>
<path d="M404.8 146.8L507.5 155.4L609.9 160.4"/>
<path d="M435.8 144.4L537.8 153.3L640.8 156.1" stroke-dasharray="1.5 1.3"/>
</g>
<g fill="#000">
<path d="M55.3 67.2L58.1 71.8L52.5 71.8Z" fill="#000" stroke="#000" stroke-width="0.4" stroke-linejoin="round"/>
<path d="M158.4 83.8L161.2 88.3L155.6 88.3Z" fill="#000" stroke="#000" stroke-width="0.4" stroke-linejoin="round"/>
<path d="M262.5 46.8L265.3 51.2L259.7 51.2Z" fill="#000" stroke="#000" stroke-width="0.4" stroke-linejoin="round"/>
<circle cx="83.8" cy="82.4" r="1.85" fill="#000" stroke="#000" stroke-width="0.4"/>
<circle cx="186.9" cy="100.1" r="1.85" fill="#000" stroke="#000" stroke-width="0.4"/>
<circle cx="290.5" cy="64.9" r="1.85" fill="#000" stroke="#000" stroke-width="0.4"/>
<path d="M404.8 144.2L407.6 148.8L402.0 148.8Z" fill="#000" stroke="#000" stroke-width="0.4" stroke-linejoin="round"/>
<path d="M507.5 152.8L510.3 157.3L504.7 157.3Z" fill="#000" stroke="#000" stroke-width="0.4" stroke-linejoin="round"/>
<path d="M609.9 157.8L612.7 162.3L607.1 162.3Z" fill="#000" stroke="#000" stroke-width="0.4" stroke-linejoin="round"/>
<circle cx="435.8" cy="144.4" r="1.85" fill="#000" stroke="#000" stroke-width="0.4"/>
<circle cx="537.8" cy="153.3" r="1.85" fill="#000" stroke="#000" stroke-width="0.4"/>
<circle cx="640.8" cy="156.1" r="1.85" fill="#000" stroke="#000" stroke-width="0.4"/>
</g>
</svg>
</body></html>
